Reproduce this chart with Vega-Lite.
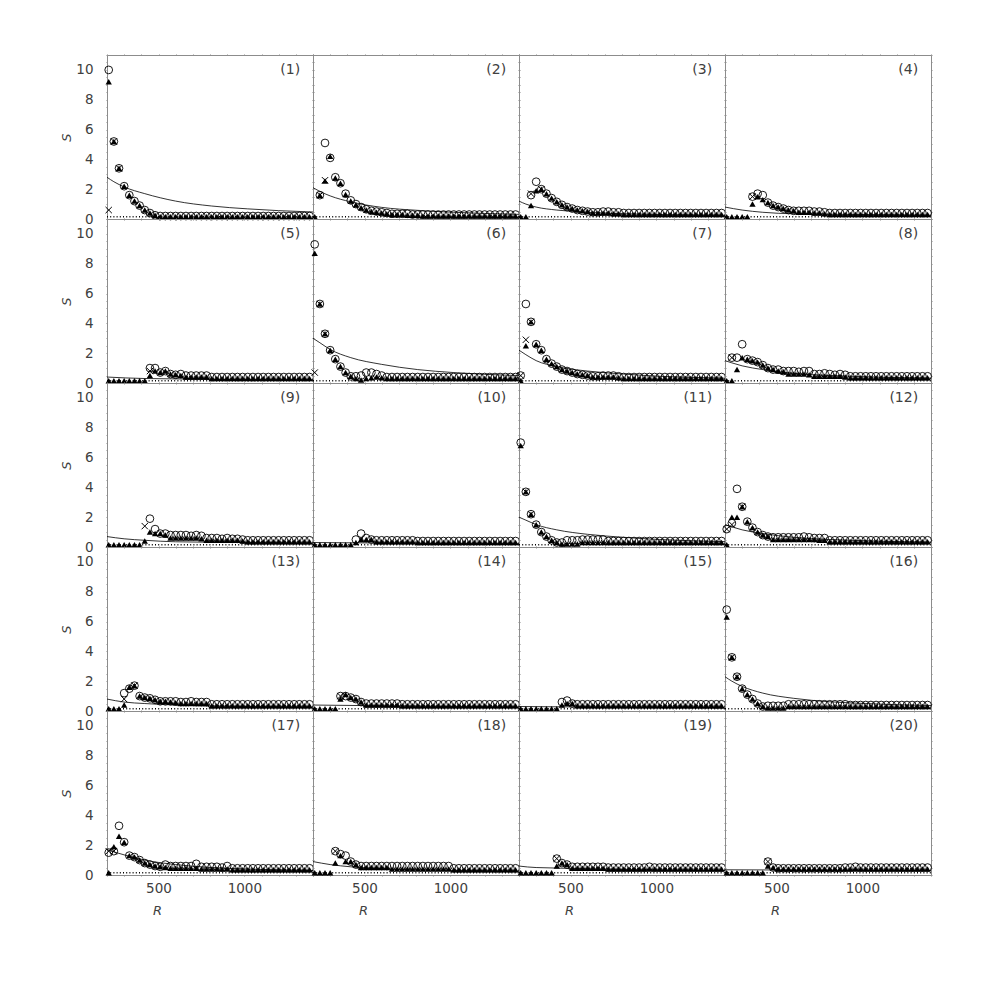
{
"$schema":"https://vega.github.io/schema/vega-lite/v6.json",
"background":"white",
"padding":{"left":60,"top":48,"right":5,"bottom":5},
"columns":4,
"bounds":"flush",
"spacing":0,
"config":{"view":{"stroke":null},
"axis":{"grid":false,"domainColor":"#8c8c8c","tickColor":"#8c8c8c","tickSize":1,"ticks":true,"labelFont":"DejaVu Sans","labelFontSize":13.5,"labelColor":"#404040","labelOverlap":false,"labelFlush":false,"labelBound":false,"titleFont":"DejaVu Sans","titleFontSize":13,"titleFontWeight":"normal","titleFontStyle":"italic","titleColor":"#404040"},
"axisLeft":{"labelPadding":13,"titlePadding":2},
"axisBottom":{"labelPadding":5}},
"datasets":{
"p1":[{"r":200,"m":2.8,"d":0.15},{"r":210,"t":9.2,"o":10,"c":0.6},{"r":240,"t":5.2,"o":5.2,"c":5.2,"m":2.5},{"r":270,"t":3.4,"o":3.4,"c":3.4},{"r":300,"t":2.2,"o":2.2,"m":2.15},{"r":330,"t":1.6,"o":1.6},{"r":360,"t":1.2,"o":1.2},{"r":390,"t":0.9,"o":0.9},{"r":420,"t":0.6,"o":0.6,"m":1.7},{"r":450,"t":0.4,"o":0.4},{"r":480,"t":0.25,"o":0.25},{"r":510,"t":0.15,"o":0.2},{"r":540,"t":0.15,"o":0.2},{"r":570,"t":0.15,"o":0.2},{"r":600,"t":0.15,"o":0.2,"m":1.2},{"r":630,"t":0.15,"o":0.2},{"r":660,"t":0.15,"o":0.2},{"r":690,"t":0.15,"o":0.2},{"r":720,"t":0.15,"o":0.2},{"r":750,"t":0.15,"o":0.2},{"r":780,"t":0.15,"o":0.2},{"r":810,"t":0.15,"o":0.2,"m":0.87},{"r":840,"t":0.15,"o":0.2},{"r":870,"t":0.15,"o":0.2},{"r":900,"t":0.15,"o":0.2},{"r":930,"t":0.15,"o":0.2},{"r":960,"t":0.15,"o":0.2},{"r":990,"t":0.15,"o":0.2},{"r":1020,"t":0.15,"o":0.2,"m":0.68},{"r":1050,"t":0.15,"o":0.2},{"r":1080,"t":0.15,"o":0.2},{"r":1110,"t":0.15,"o":0.2},{"r":1140,"t":0.15,"o":0.2},{"r":1170,"t":0.15,"o":0.2},{"r":1200,"t":0.15,"o":0.2,"m":0.56},{"r":1230,"t":0.15,"o":0.2},{"r":1260,"t":0.15,"o":0.2},{"r":1290,"t":0.15,"o":0.2},{"r":1320,"t":0.15,"o":0.2},{"r":1350,"t":0.15,"o":0.2},{"r":1380,"t":0.15,"o":0.2},{"r":1400,"m":0.47,"d":0.15}],
"p2":[{"r":200,"m":2.1,"d":0.15},{"r":210,"t":0.15},{"r":240,"t":1.6,"o":1.6,"c":1.6,"m":1.85},{"r":270,"t":2.55,"o":5.1,"c":2.6},{"r":300,"t":4.2,"o":4.1,"m":1.55},{"r":330,"t":2.75,"o":2.8},{"r":360,"t":2.4,"o":2.4},{"r":390,"t":1.65,"o":1.7},{"r":420,"t":1.2,"o":1.25,"m":1.15},{"r":450,"t":0.95,"o":1.0},{"r":480,"t":0.75,"o":0.8},{"r":510,"t":0.6,"o":0.65},{"r":540,"t":0.5,"o":0.55},{"r":570,"t":0.45,"o":0.5},{"r":600,"t":0.4,"o":0.45,"m":0.78},{"r":630,"t":0.35,"o":0.4},{"r":660,"t":0.3,"o":0.35},{"r":690,"t":0.3,"o":0.35},{"r":720,"t":0.3,"o":0.35},{"r":750,"t":0.25,"o":0.35},{"r":780,"t":0.25,"o":0.3},{"r":810,"t":0.25,"o":0.3,"m":0.58},{"r":840,"t":0.2,"o":0.3},{"r":870,"t":0.2,"o":0.3},{"r":900,"t":0.2,"o":0.3},{"r":930,"t":0.2,"o":0.3},{"r":960,"t":0.2,"o":0.3},{"r":990,"t":0.2,"o":0.3},{"r":1020,"t":0.2,"o":0.3,"m":0.45},{"r":1050,"t":0.2,"o":0.3},{"r":1080,"t":0.2,"o":0.3},{"r":1110,"t":0.2,"o":0.3},{"r":1140,"t":0.2,"o":0.3},{"r":1170,"t":0.2,"o":0.3},{"r":1200,"t":0.2,"o":0.3,"m":0.37},{"r":1230,"t":0.2,"o":0.3},{"r":1260,"t":0.2,"o":0.3},{"r":1290,"t":0.2,"o":0.3},{"r":1320,"t":0.2,"o":0.3},{"r":1350,"t":0.2,"o":0.3},{"r":1380,"t":0.2,"o":0.3},{"r":1400,"m":0.31,"d":0.15}],
"p3":[{"r":200,"m":1.2,"d":0.15},{"r":210,"t":0.15},{"r":240,"t":0.15,"m":1.0},{"r":270,"t":0.9,"o":1.6,"c":1.7},{"r":300,"t":1.9,"o":2.5,"m":0.8},{"r":330,"t":2.0,"o":2.0,"c":2.0},{"r":360,"t":1.7,"o":1.7},{"r":390,"t":1.4,"o":1.4},{"r":420,"t":1.15,"o":1.15,"m":0.6},{"r":450,"t":0.95,"o":0.95},{"r":480,"t":0.8,"o":0.8},{"r":510,"t":0.7,"o":0.7},{"r":540,"t":0.6,"o":0.6},{"r":570,"t":0.55,"o":0.55},{"r":600,"t":0.5,"o":0.5,"m":0.45},{"r":630,"t":0.4,"o":0.45},{"r":660,"t":0.4,"o":0.45},{"r":690,"t":0.4,"o":0.5},{"r":720,"t":0.4,"o":0.5},{"r":750,"t":0.35,"o":0.45},{"r":780,"t":0.35,"o":0.45},{"r":810,"t":0.3,"o":0.4,"m":0.35},{"r":840,"t":0.3,"o":0.4},{"r":870,"t":0.3,"o":0.4},{"r":900,"t":0.3,"o":0.4},{"r":930,"t":0.3,"o":0.4},{"r":960,"t":0.3,"o":0.4},{"r":990,"t":0.3,"o":0.4},{"r":1020,"t":0.3,"o":0.4,"m":0.3},{"r":1050,"t":0.3,"o":0.4},{"r":1080,"t":0.3,"o":0.4},{"r":1110,"t":0.3,"o":0.4},{"r":1140,"t":0.3,"o":0.4},{"r":1170,"t":0.3,"o":0.4},{"r":1200,"t":0.3,"o":0.4,"m":0.27},{"r":1230,"t":0.3,"o":0.4},{"r":1260,"t":0.3,"o":0.4},{"r":1290,"t":0.3,"o":0.4},{"r":1320,"t":0.3,"o":0.4},{"r":1350,"t":0.3,"o":0.4},{"r":1380,"t":0.3,"o":0.4},{"r":1400,"m":0.25,"d":0.15}],
"p4":[{"r":200,"m":0.8,"d":0.15},{"r":210,"t":0.15},{"r":240,"t":0.15},{"r":270,"t":0.15},{"r":300,"t":0.15,"m":0.6},{"r":330,"t":0.15},{"r":360,"t":1.0,"o":1.5,"c":1.5},{"r":390,"t":1.5,"o":1.7},{"r":420,"t":1.3,"o":1.6,"m":0.45},{"r":450,"t":1.1,"o":1.1},{"r":480,"t":0.9,"o":0.9},{"r":510,"t":0.8,"o":0.8},{"r":540,"t":0.7,"o":0.7},{"r":570,"t":0.6,"o":0.6},{"r":600,"t":0.55,"o":0.55,"m":0.35},{"r":630,"t":0.45,"o":0.55},{"r":660,"t":0.45,"o":0.55},{"r":690,"t":0.45,"o":0.55},{"r":720,"t":0.4,"o":0.5},{"r":750,"t":0.4,"o":0.5},{"r":780,"t":0.35,"o":0.45},{"r":810,"t":0.3,"o":0.4},{"r":840,"t":0.3,"o":0.4},{"r":870,"t":0.3,"o":0.4},{"r":900,"t":0.3,"o":0.4},{"r":930,"t":0.3,"o":0.4},{"r":960,"t":0.3,"o":0.4},{"r":990,"t":0.3,"o":0.4},{"r":1020,"t":0.3,"o":0.4,"m":0.3},{"r":1050,"t":0.3,"o":0.4},{"r":1080,"t":0.3,"o":0.4},{"r":1110,"t":0.3,"o":0.4},{"r":1140,"t":0.3,"o":0.4},{"r":1170,"t":0.3,"o":0.4},{"r":1200,"t":0.3,"o":0.4},{"r":1230,"t":0.3,"o":0.4},{"r":1260,"t":0.3,"o":0.4},{"r":1290,"t":0.3,"o":0.4},{"r":1320,"t":0.3,"o":0.4},{"r":1350,"t":0.3,"o":0.4},{"r":1380,"t":0.3,"o":0.4},{"r":1400,"m":0.25,"d":0.15}],
"p5":[{"r":200,"m":0.4,"d":0.15},{"r":210,"t":0.15},{"r":240,"t":0.15},{"r":270,"t":0.15},{"r":300,"t":0.15},{"r":330,"t":0.15},{"r":360,"t":0.15},{"r":390,"t":0.15},{"r":420,"t":0.15,"m":0.3},{"r":450,"t":0.5,"o":1.0,"c":0.8},{"r":480,"t":0.8,"o":1.0},{"r":510,"t":0.7,"o":0.7},{"r":540,"t":0.8,"o":0.8},{"r":570,"t":0.6,"o":0.6},{"r":600,"t":0.55,"o":0.55},{"r":630,"t":0.5,"o":0.6},{"r":660,"t":0.4,"o":0.5},{"r":690,"t":0.4,"o":0.5},{"r":720,"t":0.4,"o":0.5},{"r":750,"t":0.4,"o":0.5},{"r":780,"t":0.4,"o":0.5},{"r":810,"t":0.3,"o":0.4},{"r":840,"t":0.3,"o":0.4},{"r":870,"t":0.3,"o":0.4},{"r":900,"t":0.3,"o":0.4},{"r":930,"t":0.3,"o":0.4},{"r":960,"t":0.3,"o":0.4},{"r":990,"t":0.3,"o":0.4},{"r":1020,"t":0.3,"o":0.4},{"r":1050,"t":0.3,"o":0.4},{"r":1080,"t":0.3,"o":0.4},{"r":1110,"t":0.3,"o":0.4},{"r":1140,"t":0.3,"o":0.4},{"r":1170,"t":0.3,"o":0.4},{"r":1200,"t":0.3,"o":0.4},{"r":1230,"t":0.3,"o":0.4},{"r":1260,"t":0.3,"o":0.4},{"r":1290,"t":0.3,"o":0.4},{"r":1320,"t":0.3,"o":0.4},{"r":1350,"t":0.3,"o":0.4},{"r":1380,"t":0.3,"o":0.4},{"r":1400,"m":0.2,"d":0.15}],
"p6":[{"r":200,"m":3.0,"d":0.15},{"r":210,"t":8.7,"o":9.3,"c":0.7},{"r":240,"t":5.3,"o":5.3,"c":5.3,"m":2.7},{"r":270,"t":3.3,"o":3.3,"c":3.3},{"r":300,"t":2.2,"o":2.2,"m":2.25},{"r":330,"t":1.6,"o":1.6},{"r":360,"t":1.1,"o":1.1},{"r":390,"t":0.7,"o":0.7},{"r":420,"t":0.45,"o":0.45,"m":1.7},{"r":450,"t":0.3,"o":0.45},{"r":480,"t":0.2,"o":0.5},{"r":510,"t":0.3,"o":0.7},{"r":540,"t":0.35,"o":0.7},{"r":570,"t":0.4,"o":0.6},{"r":600,"t":0.35,"o":0.5,"m":1.25},{"r":630,"t":0.3,"o":0.4},{"r":660,"t":0.3,"o":0.4},{"r":690,"t":0.3,"o":0.4},{"r":720,"t":0.3,"o":0.4},{"r":750,"t":0.3,"o":0.4},{"r":780,"t":0.3,"o":0.4},{"r":810,"t":0.3,"o":0.4,"m":0.9},{"r":840,"t":0.3,"o":0.4},{"r":870,"t":0.3,"o":0.4},{"r":900,"t":0.3,"o":0.4},{"r":930,"t":0.3,"o":0.4},{"r":960,"t":0.3,"o":0.4},{"r":990,"t":0.3,"o":0.4},{"r":1020,"t":0.3,"o":0.4,"m":0.7},{"r":1050,"t":0.3,"o":0.4},{"r":1080,"t":0.3,"o":0.4},{"r":1110,"t":0.3,"o":0.4},{"r":1140,"t":0.3,"o":0.4},{"r":1170,"t":0.3,"o":0.4},{"r":1200,"t":0.3,"o":0.4,"m":0.58},{"r":1230,"t":0.3,"o":0.4},{"r":1260,"t":0.3,"o":0.4},{"r":1290,"t":0.3,"o":0.4},{"r":1320,"t":0.3,"o":0.4},{"r":1350,"t":0.3,"o":0.4},{"r":1380,"t":0.3,"o":0.4},{"r":1400,"m":0.5,"d":0.15}],
"p7":[{"r":200,"m":2.2,"d":0.15},{"r":210,"o":0.5,"c":0.5,"t":0.15},{"r":240,"t":2.5,"o":5.3,"c":2.9,"m":1.9},{"r":270,"t":4.1,"o":4.1,"c":4.1},{"r":300,"t":2.6,"o":2.6,"m":1.5},{"r":330,"t":2.2,"o":2.2},{"r":360,"t":1.6,"o":1.6},{"r":390,"t":1.3,"o":1.3},{"r":420,"t":1.1,"o":1.1,"m":1.1},{"r":450,"t":0.9,"o":0.9},{"r":480,"t":0.8,"o":0.8},{"r":510,"t":0.7,"o":0.7},{"r":540,"t":0.6,"o":0.6},{"r":570,"t":0.55,"o":0.55},{"r":600,"t":0.5,"o":0.5,"m":0.8},{"r":630,"t":0.4,"o":0.45},{"r":660,"t":0.4,"o":0.45},{"r":690,"t":0.4,"o":0.5},{"r":720,"t":0.4,"o":0.5},{"r":750,"t":0.4,"o":0.5},{"r":780,"t":0.35,"o":0.45},{"r":810,"t":0.3,"o":0.4,"m":0.6},{"r":840,"t":0.3,"o":0.4},{"r":870,"t":0.3,"o":0.4},{"r":900,"t":0.3,"o":0.4},{"r":930,"t":0.3,"o":0.4},{"r":960,"t":0.3,"o":0.4},{"r":990,"t":0.3,"o":0.4},{"r":1020,"t":0.3,"o":0.4,"m":0.45},{"r":1050,"t":0.3,"o":0.4},{"r":1080,"t":0.3,"o":0.4},{"r":1110,"t":0.3,"o":0.4},{"r":1140,"t":0.3,"o":0.4},{"r":1170,"t":0.3,"o":0.4},{"r":1200,"t":0.3,"o":0.4,"m":0.38},{"r":1230,"t":0.3,"o":0.4},{"r":1260,"t":0.3,"o":0.4},{"r":1290,"t":0.3,"o":0.4},{"r":1320,"t":0.3,"o":0.4},{"r":1350,"t":0.3,"o":0.4},{"r":1380,"t":0.3,"o":0.4},{"r":1400,"m":0.32,"d":0.15}],
"p8":[{"r":200,"m":1.5,"d":0.15},{"r":210,"t":0.15},{"r":240,"t":0.15,"o":1.7,"c":1.7,"m":1.35},{"r":270,"t":0.9,"o":1.7},{"r":300,"t":1.7,"o":2.6,"m":1.15},{"r":330,"t":1.6,"o":1.6},{"r":360,"t":1.5,"o":1.5},{"r":390,"t":1.4,"o":1.4},{"r":420,"t":1.2,"o":1.2,"m":0.9},{"r":450,"t":1.0,"o":1.0},{"r":480,"t":0.9,"o":0.9},{"r":510,"t":0.8,"o":0.9},{"r":540,"t":0.75,"o":0.8},{"r":570,"t":0.6,"o":0.8},{"r":600,"t":0.6,"o":0.8,"m":0.65},{"r":630,"t":0.6,"o":0.75},{"r":660,"t":0.6,"o":0.8},{"r":690,"t":0.55,"o":0.8},{"r":720,"t":0.45,"o":0.6},{"r":750,"t":0.45,"o":0.6},{"r":780,"t":0.45,"o":0.65},{"r":810,"t":0.45,"o":0.6,"m":0.5},{"r":840,"t":0.45,"o":0.55},{"r":870,"t":0.45,"o":0.6},{"r":900,"t":0.4,"o":0.55},{"r":930,"t":0.35,"o":0.45},{"r":960,"t":0.35,"o":0.45},{"r":990,"t":0.35,"o":0.45},{"r":1020,"t":0.35,"o":0.45,"m":0.42},{"r":1050,"t":0.35,"o":0.45},{"r":1080,"t":0.35,"o":0.45},{"r":1110,"t":0.35,"o":0.45},{"r":1140,"t":0.35,"o":0.45},{"r":1170,"t":0.35,"o":0.45},{"r":1200,"t":0.35,"o":0.45,"m":0.36},{"r":1230,"t":0.35,"o":0.45},{"r":1260,"t":0.35,"o":0.45},{"r":1290,"t":0.35,"o":0.45},{"r":1320,"t":0.35,"o":0.45},{"r":1350,"t":0.35,"o":0.45},{"r":1380,"t":0.35,"o":0.45},{"r":1400,"m":0.32,"d":0.15}],
"p9":[{"r":200,"m":0.7,"d":0.15},{"r":210,"t":0.15},{"r":240,"t":0.15},{"r":270,"t":0.15},{"r":300,"t":0.15,"m":0.55},{"r":330,"t":0.15},{"r":360,"t":0.15},{"r":390,"t":0.15},{"r":420,"t":0.4,"c":1.4,"m":0.45},{"r":450,"t":1.0,"o":1.9},{"r":480,"t":0.9,"o":1.2},{"r":510,"t":0.9,"o":0.9},{"r":540,"t":0.8,"o":0.9},{"r":570,"t":0.6,"o":0.8},{"r":600,"t":0.6,"o":0.8,"m":0.35},{"r":630,"t":0.6,"o":0.8},{"r":660,"t":0.6,"o":0.8},{"r":690,"t":0.6,"o":0.75},{"r":720,"t":0.6,"o":0.8},{"r":750,"t":0.55,"o":0.75},{"r":780,"t":0.45,"o":0.6},{"r":810,"t":0.45,"o":0.6},{"r":840,"t":0.45,"o":0.6},{"r":870,"t":0.45,"o":0.55},{"r":900,"t":0.45,"o":0.6},{"r":930,"t":0.45,"o":0.55},{"r":960,"t":0.45,"o":0.55},{"r":990,"t":0.4,"o":0.5},{"r":1020,"t":0.35,"o":0.45,"m":0.3},{"r":1050,"t":0.35,"o":0.45},{"r":1080,"t":0.35,"o":0.45},{"r":1110,"t":0.35,"o":0.45},{"r":1140,"t":0.35,"o":0.45},{"r":1170,"t":0.35,"o":0.45},{"r":1200,"t":0.35,"o":0.45},{"r":1230,"t":0.35,"o":0.45},{"r":1260,"t":0.35,"o":0.45},{"r":1290,"t":0.35,"o":0.45},{"r":1320,"t":0.35,"o":0.45},{"r":1350,"t":0.35,"o":0.45},{"r":1380,"t":0.35,"o":0.45},{"r":1400,"m":0.25,"d":0.15}],
"p10":[{"r":200,"m":0.3,"d":0.15},{"r":210,"t":0.15},{"r":240,"t":0.15},{"r":270,"t":0.15},{"r":300,"t":0.15},{"r":330,"t":0.15},{"r":360,"t":0.15},{"r":390,"t":0.15},{"r":420,"t":0.15},{"r":450,"t":0.3,"o":0.5},{"r":480,"t":0.5,"o":0.9},{"r":510,"t":0.5,"o":0.6},{"r":540,"t":0.5,"o":0.5},{"r":570,"t":0.35,"o":0.45},{"r":600,"t":0.35,"o":0.45},{"r":630,"t":0.35,"o":0.45},{"r":660,"t":0.35,"o":0.45},{"r":690,"t":0.35,"o":0.45},{"r":720,"t":0.35,"o":0.45},{"r":750,"t":0.35,"o":0.45},{"r":780,"t":0.35,"o":0.45},{"r":810,"t":0.3,"o":0.4},{"r":840,"t":0.3,"o":0.4},{"r":870,"t":0.3,"o":0.4},{"r":900,"t":0.3,"o":0.4},{"r":930,"t":0.3,"o":0.4},{"r":960,"t":0.3,"o":0.4},{"r":990,"t":0.3,"o":0.4},{"r":1020,"t":0.3,"o":0.4},{"r":1050,"t":0.3,"o":0.4},{"r":1080,"t":0.3,"o":0.4},{"r":1110,"t":0.3,"o":0.4},{"r":1140,"t":0.3,"o":0.4},{"r":1170,"t":0.3,"o":0.4},{"r":1200,"t":0.3,"o":0.4},{"r":1230,"t":0.3,"o":0.4},{"r":1260,"t":0.3,"o":0.4},{"r":1290,"t":0.3,"o":0.4},{"r":1320,"t":0.3,"o":0.4},{"r":1350,"t":0.3,"o":0.4},{"r":1380,"t":0.3,"o":0.4},{"r":1400,"m":0.2,"d":0.15}],
"p11":[{"r":200,"m":2.0,"d":0.15},{"r":210,"t":6.8,"o":7.0},{"r":240,"t":3.7,"o":3.7,"c":3.7,"m":1.8},{"r":270,"t":2.2,"o":2.2,"c":2.2},{"r":300,"t":1.5,"o":1.5,"m":1.5},{"r":330,"t":1.0,"o":1.0},{"r":360,"t":0.7,"o":0.7},{"r":390,"t":0.45,"o":0.45},{"r":420,"t":0.3,"o":0.3,"m":1.15},{"r":450,"t":0.2,"o":0.3},{"r":480,"t":0.2,"o":0.45},{"r":510,"t":0.2,"o":0.45},{"r":540,"t":0.2,"o":0.45},{"r":570,"t":0.3,"o":0.5},{"r":600,"t":0.3,"o":0.5,"m":0.85},{"r":630,"t":0.3,"o":0.5},{"r":660,"t":0.3,"o":0.5},{"r":690,"t":0.3,"o":0.5},{"r":720,"t":0.3,"o":0.4},{"r":750,"t":0.3,"o":0.4},{"r":780,"t":0.3,"o":0.4},{"r":810,"t":0.3,"o":0.4,"m":0.65},{"r":840,"t":0.3,"o":0.4},{"r":870,"t":0.3,"o":0.4},{"r":900,"t":0.3,"o":0.4},{"r":930,"t":0.3,"o":0.4},{"r":960,"t":0.3,"o":0.4},{"r":990,"t":0.3,"o":0.4},{"r":1020,"t":0.3,"o":0.4,"m":0.5},{"r":1050,"t":0.3,"o":0.4},{"r":1080,"t":0.3,"o":0.4},{"r":1110,"t":0.3,"o":0.4},{"r":1140,"t":0.3,"o":0.4},{"r":1170,"t":0.3,"o":0.4},{"r":1200,"t":0.3,"o":0.4,"m":0.42},{"r":1230,"t":0.3,"o":0.4},{"r":1260,"t":0.3,"o":0.4},{"r":1290,"t":0.3,"o":0.4},{"r":1320,"t":0.3,"o":0.4},{"r":1350,"t":0.3,"o":0.4},{"r":1380,"t":0.3,"o":0.4},{"r":1400,"m":0.36,"d":0.15}],
"p12":[{"r":200,"m":1.5,"d":0.15},{"r":210,"t":0.15,"o":1.2,"c":1.2},{"r":240,"t":2.0,"o":1.6,"c":1.5,"m":1.35},{"r":270,"t":2.0,"o":3.9},{"r":300,"t":2.7,"o":2.7,"c":2.7,"m":1.15},{"r":330,"t":1.7,"o":1.7},{"r":360,"t":1.3,"o":1.3},{"r":390,"t":1.0,"o":1.0},{"r":420,"t":0.8,"o":0.8,"m":0.9},{"r":450,"t":0.7,"o":0.7},{"r":480,"t":0.5,"o":0.65},{"r":510,"t":0.5,"o":0.65},{"r":540,"t":0.5,"o":0.65},{"r":570,"t":0.5,"o":0.65},{"r":600,"t":0.5,"o":0.65,"m":0.65},{"r":630,"t":0.5,"o":0.65},{"r":660,"t":0.5,"o":0.7},{"r":690,"t":0.5,"o":0.65},{"r":720,"t":0.5,"o":0.6},{"r":750,"t":0.45,"o":0.6},{"r":780,"t":0.45,"o":0.6},{"r":810,"t":0.35,"o":0.45,"m":0.5},{"r":840,"t":0.35,"o":0.45},{"r":870,"t":0.35,"o":0.45},{"r":900,"t":0.35,"o":0.45},{"r":930,"t":0.35,"o":0.45},{"r":960,"t":0.35,"o":0.45},{"r":990,"t":0.35,"o":0.45},{"r":1020,"t":0.35,"o":0.45,"m":0.42},{"r":1050,"t":0.35,"o":0.45},{"r":1080,"t":0.35,"o":0.45},{"r":1110,"t":0.35,"o":0.45},{"r":1140,"t":0.35,"o":0.45},{"r":1170,"t":0.35,"o":0.45},{"r":1200,"t":0.35,"o":0.45,"m":0.36},{"r":1230,"t":0.35,"o":0.45},{"r":1260,"t":0.35,"o":0.45},{"r":1290,"t":0.35,"o":0.45},{"r":1320,"t":0.35,"o":0.45},{"r":1350,"t":0.35,"o":0.45},{"r":1380,"t":0.35,"o":0.45},{"r":1400,"m":0.32,"d":0.15}],
"p13":[{"r":200,"m":0.8,"d":0.15},{"r":210,"t":0.15},{"r":240,"t":0.15},{"r":270,"t":0.15},{"r":300,"t":0.4,"o":1.2,"c":0.8,"m":0.6},{"r":330,"t":1.6,"o":1.5},{"r":360,"t":1.7,"o":1.7,"c":1.7},{"r":390,"t":1.0,"o":1.0},{"r":420,"t":0.9,"o":0.9,"m":0.5},{"r":450,"t":0.85,"o":0.85},{"r":480,"t":0.75,"o":0.75},{"r":510,"t":0.65,"o":0.65},{"r":540,"t":0.65,"o":0.65},{"r":570,"t":0.6,"o":0.65},{"r":600,"t":0.55,"o":0.65,"m":0.4},{"r":630,"t":0.5,"o":0.6},{"r":660,"t":0.5,"o":0.6},{"r":690,"t":0.5,"o":0.65},{"r":720,"t":0.5,"o":0.6},{"r":750,"t":0.5,"o":0.6},{"r":780,"t":0.5,"o":0.6},{"r":810,"t":0.35,"o":0.45},{"r":840,"t":0.35,"o":0.45},{"r":870,"t":0.35,"o":0.45},{"r":900,"t":0.35,"o":0.45},{"r":930,"t":0.35,"o":0.45},{"r":960,"t":0.35,"o":0.45},{"r":990,"t":0.35,"o":0.45},{"r":1020,"t":0.35,"o":0.45,"m":0.3},{"r":1050,"t":0.35,"o":0.45},{"r":1080,"t":0.35,"o":0.45},{"r":1110,"t":0.35,"o":0.45},{"r":1140,"t":0.35,"o":0.45},{"r":1170,"t":0.35,"o":0.45},{"r":1200,"t":0.35,"o":0.45},{"r":1230,"t":0.35,"o":0.45},{"r":1260,"t":0.35,"o":0.45},{"r":1290,"t":0.35,"o":0.45},{"r":1320,"t":0.35,"o":0.45},{"r":1350,"t":0.35,"o":0.45},{"r":1380,"t":0.35,"o":0.45},{"r":1400,"m":0.25,"d":0.15}],
"p14":[{"r":200,"m":0.4,"d":0.15},{"r":210,"t":0.15},{"r":240,"t":0.15},{"r":270,"t":0.15},{"r":300,"t":0.15},{"r":330,"t":0.15},{"r":360,"t":0.8,"o":1.0,"c":1.0},{"r":390,"t":1.1,"o":1.0},{"r":420,"t":0.9,"o":0.9},{"r":450,"t":0.8,"o":0.8},{"r":480,"t":0.6,"o":0.6},{"r":510,"t":0.4,"o":0.5},{"r":540,"t":0.4,"o":0.5},{"r":570,"t":0.4,"o":0.5},{"r":600,"t":0.4,"o":0.5},{"r":630,"t":0.4,"o":0.5},{"r":660,"t":0.4,"o":0.5},{"r":690,"t":0.4,"o":0.5},{"r":720,"t":0.35,"o":0.45},{"r":750,"t":0.35,"o":0.45},{"r":780,"t":0.35,"o":0.45},{"r":810,"t":0.35,"o":0.45},{"r":840,"t":0.35,"o":0.45},{"r":870,"t":0.35,"o":0.45},{"r":900,"t":0.35,"o":0.45},{"r":930,"t":0.35,"o":0.45},{"r":960,"t":0.35,"o":0.45},{"r":990,"t":0.35,"o":0.45},{"r":1020,"t":0.35,"o":0.45},{"r":1050,"t":0.35,"o":0.45},{"r":1080,"t":0.35,"o":0.45},{"r":1110,"t":0.35,"o":0.45},{"r":1140,"t":0.35,"o":0.45},{"r":1170,"t":0.35,"o":0.45},{"r":1200,"t":0.35,"o":0.45},{"r":1230,"t":0.35,"o":0.45},{"r":1260,"t":0.35,"o":0.45},{"r":1290,"t":0.35,"o":0.45},{"r":1320,"t":0.35,"o":0.45},{"r":1350,"t":0.35,"o":0.45},{"r":1380,"t":0.35,"o":0.45},{"r":1400,"m":0.25,"d":0.15}],
"p15":[{"r":200,"m":0.3,"d":0.15},{"r":210,"t":0.15},{"r":240,"t":0.15},{"r":270,"t":0.15},{"r":300,"t":0.15},{"r":330,"t":0.15},{"r":360,"t":0.15},{"r":390,"t":0.15},{"r":420,"t":0.15},{"r":450,"t":0.4,"o":0.6},{"r":480,"t":0.5,"o":0.7},{"r":510,"t":0.5,"o":0.5},{"r":540,"t":0.35,"o":0.45},{"r":570,"t":0.35,"o":0.45},{"r":600,"t":0.35,"o":0.45},{"r":630,"t":0.35,"o":0.45},{"r":660,"t":0.35,"o":0.45},{"r":690,"t":0.35,"o":0.45},{"r":720,"t":0.35,"o":0.45},{"r":750,"t":0.35,"o":0.45},{"r":780,"t":0.35,"o":0.45},{"r":810,"t":0.35,"o":0.45},{"r":840,"t":0.35,"o":0.45},{"r":870,"t":0.35,"o":0.45},{"r":900,"t":0.35,"o":0.45},{"r":930,"t":0.35,"o":0.45},{"r":960,"t":0.35,"o":0.45},{"r":990,"t":0.35,"o":0.45},{"r":1020,"t":0.35,"o":0.45},{"r":1050,"t":0.35,"o":0.45},{"r":1080,"t":0.35,"o":0.45},{"r":1110,"t":0.35,"o":0.45},{"r":1140,"t":0.35,"o":0.45},{"r":1170,"t":0.35,"o":0.45},{"r":1200,"t":0.35,"o":0.45},{"r":1230,"t":0.35,"o":0.45},{"r":1260,"t":0.35,"o":0.45},{"r":1290,"t":0.35,"o":0.45},{"r":1320,"t":0.35,"o":0.45},{"r":1350,"t":0.35,"o":0.45},{"r":1380,"t":0.35,"o":0.45},{"r":1400,"m":0.2,"d":0.15}],
"p16":[{"r":200,"m":2.3,"d":0.15},{"r":210,"t":6.3,"o":6.8},{"r":240,"t":3.6,"o":3.6,"c":3.6,"m":2.0},{"r":270,"t":2.3,"o":2.3,"c":2.3},{"r":300,"t":1.5,"o":1.5,"m":1.65},{"r":330,"t":1.1,"o":1.1},{"r":360,"t":0.8,"o":0.8},{"r":390,"t":0.5,"o":0.5},{"r":420,"t":0.3,"o":0.3,"m":1.2},{"r":450,"t":0.2,"o":0.35},{"r":480,"t":0.2,"o":0.35},{"r":510,"t":0.2,"o":0.35},{"r":540,"t":0.2,"o":0.35},{"r":570,"t":0.3,"o":0.45},{"r":600,"t":0.3,"o":0.45,"m":0.85},{"r":630,"t":0.3,"o":0.45},{"r":660,"t":0.3,"o":0.45},{"r":690,"t":0.3,"o":0.45},{"r":720,"t":0.3,"o":0.45},{"r":750,"t":0.3,"o":0.45},{"r":780,"t":0.3,"o":0.45},{"r":810,"t":0.3,"o":0.45,"m":0.62},{"r":840,"t":0.3,"o":0.45},{"r":870,"t":0.3,"o":0.45},{"r":900,"t":0.3,"o":0.45},{"r":930,"t":0.3,"o":0.4},{"r":960,"t":0.3,"o":0.4},{"r":990,"t":0.3,"o":0.4},{"r":1020,"t":0.3,"o":0.4,"m":0.5},{"r":1050,"t":0.3,"o":0.4},{"r":1080,"t":0.3,"o":0.4},{"r":1110,"t":0.3,"o":0.4},{"r":1140,"t":0.3,"o":0.4},{"r":1170,"t":0.3,"o":0.4},{"r":1200,"t":0.3,"o":0.4,"m":0.42},{"r":1230,"t":0.3,"o":0.4},{"r":1260,"t":0.3,"o":0.4},{"r":1290,"t":0.3,"o":0.4},{"r":1320,"t":0.3,"o":0.4},{"r":1350,"t":0.3,"o":0.4},{"r":1380,"t":0.3,"o":0.4},{"r":1400,"m":0.37,"d":0.15}],
"p17":[{"r":200,"m":1.7,"d":0.15},{"r":210,"t":0.15,"o":1.5,"c":1.6},{"r":240,"t":1.9,"o":1.6,"c":1.6,"m":1.55},{"r":270,"t":2.6,"o":3.3},{"r":300,"t":2.2,"o":2.2,"m":1.35},{"r":330,"t":1.3,"o":1.3},{"r":360,"t":1.2,"o":1.2},{"r":390,"t":1.0,"o":1.0},{"r":420,"t":0.8,"o":0.8,"m":1.0},{"r":450,"t":0.7,"o":0.7},{"r":480,"t":0.6,"o":0.6},{"r":510,"t":0.55,"o":0.55},{"r":540,"t":0.5,"o":0.7},{"r":570,"t":0.45,"o":0.6},{"r":600,"t":0.45,"o":0.6,"m":0.7},{"r":630,"t":0.45,"o":0.6},{"r":660,"t":0.45,"o":0.6},{"r":690,"t":0.45,"o":0.6},{"r":720,"t":0.45,"o":0.75},{"r":750,"t":0.4,"o":0.55},{"r":780,"t":0.4,"o":0.55},{"r":810,"t":0.4,"o":0.55,"m":0.5},{"r":840,"t":0.4,"o":0.55},{"r":870,"t":0.4,"o":0.5},{"r":900,"t":0.4,"o":0.6},{"r":930,"t":0.35,"o":0.45},{"r":960,"t":0.35,"o":0.45},{"r":990,"t":0.35,"o":0.45},{"r":1020,"t":0.35,"o":0.45,"m":0.4},{"r":1050,"t":0.35,"o":0.45},{"r":1080,"t":0.35,"o":0.45},{"r":1110,"t":0.35,"o":0.45},{"r":1140,"t":0.35,"o":0.45},{"r":1170,"t":0.35,"o":0.45},{"r":1200,"t":0.35,"o":0.45,"m":0.34},{"r":1230,"t":0.35,"o":0.45},{"r":1260,"t":0.35,"o":0.45},{"r":1290,"t":0.35,"o":0.45},{"r":1320,"t":0.35,"o":0.45},{"r":1350,"t":0.35,"o":0.45},{"r":1380,"t":0.35,"o":0.45},{"r":1400,"m":0.3,"d":0.15}],
"p18":[{"r":200,"m":0.9,"d":0.15},{"r":210,"t":0.15},{"r":240,"t":0.15},{"r":270,"t":0.15},{"r":300,"t":0.15,"m":0.7},{"r":330,"t":0.8,"o":1.6,"c":1.6},{"r":360,"t":1.3,"o":1.4},{"r":390,"t":0.9,"o":1.3},{"r":420,"t":0.9,"o":0.9,"m":0.55},{"r":450,"t":0.7,"o":0.7},{"r":480,"t":0.5,"o":0.6},{"r":510,"t":0.5,"o":0.6},{"r":540,"t":0.5,"o":0.6},{"r":570,"t":0.5,"o":0.6},{"r":600,"t":0.5,"o":0.6,"m":0.42},{"r":630,"t":0.5,"o":0.6},{"r":660,"t":0.4,"o":0.6},{"r":690,"t":0.4,"o":0.6},{"r":720,"t":0.4,"o":0.6},{"r":750,"t":0.4,"o":0.6},{"r":780,"t":0.4,"o":0.6},{"r":810,"t":0.4,"o":0.6},{"r":840,"t":0.4,"o":0.6},{"r":870,"t":0.4,"o":0.6},{"r":900,"t":0.4,"o":0.6},{"r":930,"t":0.4,"o":0.6},{"r":960,"t":0.4,"o":0.6},{"r":990,"t":0.4,"o":0.6},{"r":1020,"t":0.35,"o":0.45,"m":0.3},{"r":1050,"t":0.35,"o":0.45},{"r":1080,"t":0.35,"o":0.45},{"r":1110,"t":0.35,"o":0.45},{"r":1140,"t":0.35,"o":0.45},{"r":1170,"t":0.35,"o":0.45},{"r":1200,"t":0.35,"o":0.45},{"r":1230,"t":0.35,"o":0.45},{"r":1260,"t":0.35,"o":0.45},{"r":1290,"t":0.35,"o":0.45},{"r":1320,"t":0.35,"o":0.45},{"r":1350,"t":0.35,"o":0.45},{"r":1380,"t":0.35,"o":0.45},{"r":1400,"m":0.25,"d":0.15}],
"p19":[{"r":200,"m":0.6,"d":0.15},{"r":210,"t":0.15},{"r":240,"t":0.15},{"r":270,"t":0.15},{"r":300,"t":0.15,"m":0.5},{"r":330,"t":0.15},{"r":360,"t":0.15},{"r":390,"t":0.15},{"r":420,"t":0.6,"o":1.1,"c":1.1},{"r":450,"t":0.8,"o":0.8},{"r":480,"t":0.7,"o":0.7},{"r":510,"t":0.45,"o":0.55},{"r":540,"t":0.45,"o":0.55},{"r":570,"t":0.45,"o":0.55},{"r":600,"t":0.45,"o":0.55},{"r":630,"t":0.45,"o":0.55},{"r":660,"t":0.45,"o":0.55},{"r":690,"t":0.45,"o":0.55},{"r":720,"t":0.4,"o":0.5},{"r":750,"t":0.4,"o":0.5},{"r":780,"t":0.4,"o":0.5},{"r":810,"t":0.4,"o":0.5},{"r":840,"t":0.4,"o":0.5},{"r":870,"t":0.4,"o":0.5},{"r":900,"t":0.4,"o":0.5},{"r":930,"t":0.4,"o":0.5},{"r":960,"t":0.4,"o":0.55},{"r":990,"t":0.4,"o":0.5},{"r":1020,"t":0.4,"o":0.5},{"r":1050,"t":0.4,"o":0.5},{"r":1080,"t":0.4,"o":0.5},{"r":1110,"t":0.4,"o":0.5},{"r":1140,"t":0.4,"o":0.5},{"r":1170,"t":0.4,"o":0.5},{"r":1200,"t":0.4,"o":0.5},{"r":1230,"t":0.4,"o":0.5},{"r":1260,"t":0.4,"o":0.5},{"r":1290,"t":0.4,"o":0.5},{"r":1320,"t":0.4,"o":0.5},{"r":1350,"t":0.4,"o":0.5},{"r":1380,"t":0.4,"o":0.5},{"r":1400,"m":0.3,"d":0.15}],
"p20":[{"r":200,"m":0.35,"d":0.15},{"r":210,"t":0.15},{"r":240,"t":0.15},{"r":270,"t":0.15},{"r":300,"t":0.15},{"r":330,"t":0.15},{"r":360,"t":0.15},{"r":390,"t":0.15},{"r":420,"t":0.15},{"r":450,"t":0.6,"o":0.9,"c":0.9},{"r":480,"t":0.5,"o":0.5},{"r":510,"t":0.4,"o":0.45},{"r":540,"t":0.4,"o":0.45},{"r":570,"t":0.4,"o":0.45},{"r":600,"t":0.4,"o":0.45},{"r":630,"t":0.4,"o":0.45},{"r":660,"t":0.4,"o":0.45},{"r":690,"t":0.4,"o":0.45},{"r":720,"t":0.4,"o":0.45},{"r":750,"t":0.4,"o":0.45},{"r":780,"t":0.4,"o":0.45},{"r":810,"t":0.4,"o":0.45},{"r":840,"t":0.4,"o":0.45},{"r":870,"t":0.4,"o":0.45},{"r":900,"t":0.4,"o":0.5},{"r":930,"t":0.4,"o":0.5},{"r":960,"t":0.4,"o":0.55},{"r":990,"t":0.4,"o":0.5},{"r":1020,"t":0.4,"o":0.5},{"r":1050,"t":0.4,"o":0.5},{"r":1080,"t":0.4,"o":0.5},{"r":1110,"t":0.4,"o":0.5},{"r":1140,"t":0.4,"o":0.5},{"r":1170,"t":0.4,"o":0.5},{"r":1200,"t":0.4,"o":0.5},{"r":1230,"t":0.4,"o":0.5},{"r":1260,"t":0.4,"o":0.5},{"r":1290,"t":0.4,"o":0.5},{"r":1320,"t":0.4,"o":0.5},{"r":1350,"t":0.4,"o":0.5},{"r":1380,"t":0.4,"o":0.5},{"r":1400,"m":0.3,"d":0.15}]
},
"concat":[
{"width":206,"height":164,"data":{"name":"p1"},"resolve":{"axis":{"x":"independent","y":"independent"}},"layer":[
{"transform":[{"filter":{"field":"d","valid":true}}],"mark":{"type":"line","color":"#000","strokeWidth":1.6,"strokeDash":[1,2.2]},"encoding":{"x":{"field":"r","type":"quantitative","scale":{"domain":[200,1400],"nice":false},"axis":{"orient":"bottom","values":[200,300,400,500,600,700,800,900,1000,1100,1200,1300,1400],"labels":false,"title":null,"encode":{"ticks":{"update":{"y2":{"signal":"datum.value%500?-4.5:-9"}}}}}},"y":{"field":"d","type":"quantitative","scale":{"domain":[0,11],"nice":false},"axis":{"orient":"left","values":[0,0.5,1,1.5,2,2.5,3,3.5,4,4.5,5,5.5,6,6.5,7,7.5,8,8.5,9,9.5,10,10.5,11],"labels":true,"labelExpr":"datum.value%2?'':''+datum.value","title":"S","encode":{"ticks":{"update":{"x2":{"signal":"datum.value%2?4.5:9"}}}}}}}},
{"transform":[{"filter":{"field":"m","valid":true}}],"mark":{"type":"line","color":"#000","strokeWidth":0.8,"interpolate":"monotone"},"encoding":{"x":{"field":"r","type":"quantitative","scale":{"domain":[200,1400],"nice":false},"axis":{"orient":"top","values":[200,300,400,500,600,700,800,900,1000,1100,1200,1300,1400],"labels":false,"title":null,"encode":{"ticks":{"update":{"y2":{"signal":"datum.value%500?4.5:9"}}}}}},"y":{"field":"m","type":"quantitative","scale":{"domain":[0,11],"nice":false},"axis":{"orient":"right","values":[0,0.5,1,1.5,2,2.5,3,3.5,4,4.5,5,5.5,6,6.5,7,7.5,8,8.5,9,9.5,10,10.5,11],"labels":false,"title":null,"encode":{"ticks":{"update":{"x2":{"signal":"datum.value%2?-4.5:-9"}}}}}}}},
{"transform":[{"filter":{"field":"t","valid":true}}],"mark":{"type":"point","shape":"triangle-up","filled":true,"color":"#000","opacity":1,"size":40},"encoding":{"x":{"field":"r","type":"quantitative","scale":{"domain":[200,1400],"nice":false},"axis":null},"y":{"field":"t","type":"quantitative","scale":{"domain":[0,11],"nice":false},"axis":null}}},
{"transform":[{"filter":{"field":"o","valid":true}}],"mark":{"type":"point","shape":"circle","filled":false,"color":"#000","opacity":1,"size":60,"strokeWidth":0.9},"encoding":{"x":{"field":"r","type":"quantitative","scale":{"domain":[200,1400],"nice":false},"axis":null},"y":{"field":"o","type":"quantitative","scale":{"domain":[0,11],"nice":false},"axis":null}}},
{"transform":[{"filter":{"field":"c","valid":true}}],"mark":{"type":"point","shape":"M-1,-1L1,1M-1,1L1,-1","filled":false,"color":"#000","opacity":1,"size":40,"strokeWidth":1},"encoding":{"x":{"field":"r","type":"quantitative","scale":{"domain":[200,1400],"nice":false},"axis":null},"y":{"field":"c","type":"quantitative","scale":{"domain":[0,11],"nice":false},"axis":null}}},
{"data":{"values":[{}]},"mark":{"type":"text","text":"(1)","align":"right","baseline":"middle","font":"DejaVu Sans","fontSize":14,"color":"#404040"},"encoding":{"x":{"datum":1325,"type":"quantitative","scale":{"domain":[200,1400],"nice":false},"axis":null},"y":{"datum":10,"type":"quantitative","scale":{"domain":[0,11],"nice":false},"axis":null}}}]},
{"width":206,"height":164,"data":{"name":"p2"},"resolve":{"axis":{"x":"independent","y":"independent"}},"layer":[
{"transform":[{"filter":{"field":"d","valid":true}}],"mark":{"type":"line","color":"#000","strokeWidth":1.6,"strokeDash":[1,2.2]},"encoding":{"x":{"field":"r","type":"quantitative","scale":{"domain":[200,1400],"nice":false},"axis":{"orient":"bottom","values":[200,300,400,500,600,700,800,900,1000,1100,1200,1300,1400],"labels":false,"title":null,"encode":{"ticks":{"update":{"y2":{"signal":"datum.value%500?-4.5:-9"}}}}}},"y":{"field":"d","type":"quantitative","scale":{"domain":[0,11],"nice":false},"axis":{"orient":"left","values":[0,0.5,1,1.5,2,2.5,3,3.5,4,4.5,5,5.5,6,6.5,7,7.5,8,8.5,9,9.5,10,10.5,11],"labels":false,"title":null,"encode":{"ticks":{"update":{"x2":{"signal":"datum.value%2?4.5:9"}}}}}}}},
{"transform":[{"filter":{"field":"m","valid":true}}],"mark":{"type":"line","color":"#000","strokeWidth":0.8,"interpolate":"monotone"},"encoding":{"x":{"field":"r","type":"quantitative","scale":{"domain":[200,1400],"nice":false},"axis":{"orient":"top","values":[200,300,400,500,600,700,800,900,1000,1100,1200,1300,1400],"labels":false,"title":null,"encode":{"ticks":{"update":{"y2":{"signal":"datum.value%500?4.5:9"}}}}}},"y":{"field":"m","type":"quantitative","scale":{"domain":[0,11],"nice":false},"axis":{"orient":"right","values":[0,0.5,1,1.5,2,2.5,3,3.5,4,4.5,5,5.5,6,6.5,7,7.5,8,8.5,9,9.5,10,10.5,11],"labels":false,"title":null,"encode":{"ticks":{"update":{"x2":{"signal":"datum.value%2?-4.5:-9"}}}}}}}},
{"transform":[{"filter":{"field":"t","valid":true}}],"mark":{"type":"point","shape":"triangle-up","filled":true,"color":"#000","opacity":1,"size":40},"encoding":{"x":{"field":"r","type":"quantitative","scale":{"domain":[200,1400],"nice":false},"axis":null},"y":{"field":"t","type":"quantitative","scale":{"domain":[0,11],"nice":false},"axis":null}}},
{"transform":[{"filter":{"field":"o","valid":true}}],"mark":{"type":"point","shape":"circle","filled":false,"color":"#000","opacity":1,"size":60,"strokeWidth":0.9},"encoding":{"x":{"field":"r","type":"quantitative","scale":{"domain":[200,1400],"nice":false},"axis":null},"y":{"field":"o","type":"quantitative","scale":{"domain":[0,11],"nice":false},"axis":null}}},
{"transform":[{"filter":{"field":"c","valid":true}}],"mark":{"type":"point","shape":"M-1,-1L1,1M-1,1L1,-1","filled":false,"color":"#000","opacity":1,"size":40,"strokeWidth":1},"encoding":{"x":{"field":"r","type":"quantitative","scale":{"domain":[200,1400],"nice":false},"axis":null},"y":{"field":"c","type":"quantitative","scale":{"domain":[0,11],"nice":false},"axis":null}}},
{"data":{"values":[{}]},"mark":{"type":"text","text":"(2)","align":"right","baseline":"middle","font":"DejaVu Sans","fontSize":14,"color":"#404040"},"encoding":{"x":{"datum":1325,"type":"quantitative","scale":{"domain":[200,1400],"nice":false},"axis":null},"y":{"datum":10,"type":"quantitative","scale":{"domain":[0,11],"nice":false},"axis":null}}}]},
{"width":206,"height":164,"data":{"name":"p3"},"resolve":{"axis":{"x":"independent","y":"independent"}},"layer":[
{"transform":[{"filter":{"field":"d","valid":true}}],"mark":{"type":"line","color":"#000","strokeWidth":1.6,"strokeDash":[1,2.2]},"encoding":{"x":{"field":"r","type":"quantitative","scale":{"domain":[200,1400],"nice":false},"axis":{"orient":"bottom","values":[200,300,400,500,600,700,800,900,1000,1100,1200,1300,1400],"labels":false,"title":null,"encode":{"ticks":{"update":{"y2":{"signal":"datum.value%500?-4.5:-9"}}}}}},"y":{"field":"d","type":"quantitative","scale":{"domain":[0,11],"nice":false},"axis":{"orient":"left","values":[0,0.5,1,1.5,2,2.5,3,3.5,4,4.5,5,5.5,6,6.5,7,7.5,8,8.5,9,9.5,10,10.5,11],"labels":false,"title":null,"encode":{"ticks":{"update":{"x2":{"signal":"datum.value%2?4.5:9"}}}}}}}},
{"transform":[{"filter":{"field":"m","valid":true}}],"mark":{"type":"line","color":"#000","strokeWidth":0.8,"interpolate":"monotone"},"encoding":{"x":{"field":"r","type":"quantitative","scale":{"domain":[200,1400],"nice":false},"axis":{"orient":"top","values":[200,300,400,500,600,700,800,900,1000,1100,1200,1300,1400],"labels":false,"title":null,"encode":{"ticks":{"update":{"y2":{"signal":"datum.value%500?4.5:9"}}}}}},"y":{"field":"m","type":"quantitative","scale":{"domain":[0,11],"nice":false},"axis":{"orient":"right","values":[0,0.5,1,1.5,2,2.5,3,3.5,4,4.5,5,5.5,6,6.5,7,7.5,8,8.5,9,9.5,10,10.5,11],"labels":false,"title":null,"encode":{"ticks":{"update":{"x2":{"signal":"datum.value%2?-4.5:-9"}}}}}}}},
{"transform":[{"filter":{"field":"t","valid":true}}],"mark":{"type":"point","shape":"triangle-up","filled":true,"color":"#000","opacity":1,"size":40},"encoding":{"x":{"field":"r","type":"quantitative","scale":{"domain":[200,1400],"nice":false},"axis":null},"y":{"field":"t","type":"quantitative","scale":{"domain":[0,11],"nice":false},"axis":null}}},
{"transform":[{"filter":{"field":"o","valid":true}}],"mark":{"type":"point","shape":"circle","filled":false,"color":"#000","opacity":1,"size":60,"strokeWidth":0.9},"encoding":{"x":{"field":"r","type":"quantitative","scale":{"domain":[200,1400],"nice":false},"axis":null},"y":{"field":"o","type":"quantitative","scale":{"domain":[0,11],"nice":false},"axis":null}}},
{"transform":[{"filter":{"field":"c","valid":true}}],"mark":{"type":"point","shape":"M-1,-1L1,1M-1,1L1,-1","filled":false,"color":"#000","opacity":1,"size":40,"strokeWidth":1},"encoding":{"x":{"field":"r","type":"quantitative","scale":{"domain":[200,1400],"nice":false},"axis":null},"y":{"field":"c","type":"quantitative","scale":{"domain":[0,11],"nice":false},"axis":null}}},
{"data":{"values":[{}]},"mark":{"type":"text","text":"(3)","align":"right","baseline":"middle","font":"DejaVu Sans","fontSize":14,"color":"#404040"},"encoding":{"x":{"datum":1325,"type":"quantitative","scale":{"domain":[200,1400],"nice":false},"axis":null},"y":{"datum":10,"type":"quantitative","scale":{"domain":[0,11],"nice":false},"axis":null}}}]},
{"width":206,"height":164,"data":{"name":"p4"},"resolve":{"axis":{"x":"independent","y":"independent"}},"layer":[
{"transform":[{"filter":{"field":"d","valid":true}}],"mark":{"type":"line","color":"#000","strokeWidth":1.6,"strokeDash":[1,2.2]},"encoding":{"x":{"field":"r","type":"quantitative","scale":{"domain":[200,1400],"nice":false},"axis":{"orient":"bottom","values":[200,300,400,500,600,700,800,900,1000,1100,1200,1300,1400],"labels":false,"title":null,"encode":{"ticks":{"update":{"y2":{"signal":"datum.value%500?-4.5:-9"}}}}}},"y":{"field":"d","type":"quantitative","scale":{"domain":[0,11],"nice":false},"axis":{"orient":"left","values":[0,0.5,1,1.5,2,2.5,3,3.5,4,4.5,5,5.5,6,6.5,7,7.5,8,8.5,9,9.5,10,10.5,11],"labels":false,"title":null,"encode":{"ticks":{"update":{"x2":{"signal":"datum.value%2?4.5:9"}}}}}}}},
{"transform":[{"filter":{"field":"m","valid":true}}],"mark":{"type":"line","color":"#000","strokeWidth":0.8,"interpolate":"monotone"},"encoding":{"x":{"field":"r","type":"quantitative","scale":{"domain":[200,1400],"nice":false},"axis":{"orient":"top","values":[200,300,400,500,600,700,800,900,1000,1100,1200,1300,1400],"labels":false,"title":null,"encode":{"ticks":{"update":{"y2":{"signal":"datum.value%500?4.5:9"}}}}}},"y":{"field":"m","type":"quantitative","scale":{"domain":[0,11],"nice":false},"axis":{"orient":"right","values":[0,0.5,1,1.5,2,2.5,3,3.5,4,4.5,5,5.5,6,6.5,7,7.5,8,8.5,9,9.5,10,10.5,11],"labels":false,"title":null,"encode":{"ticks":{"update":{"x2":{"signal":"datum.value%2?-4.5:-9"}}}}}}}},
{"transform":[{"filter":{"field":"t","valid":true}}],"mark":{"type":"point","shape":"triangle-up","filled":true,"color":"#000","opacity":1,"size":40},"encoding":{"x":{"field":"r","type":"quantitative","scale":{"domain":[200,1400],"nice":false},"axis":null},"y":{"field":"t","type":"quantitative","scale":{"domain":[0,11],"nice":false},"axis":null}}},
{"transform":[{"filter":{"field":"o","valid":true}}],"mark":{"type":"point","shape":"circle","filled":false,"color":"#000","opacity":1,"size":60,"strokeWidth":0.9},"encoding":{"x":{"field":"r","type":"quantitative","scale":{"domain":[200,1400],"nice":false},"axis":null},"y":{"field":"o","type":"quantitative","scale":{"domain":[0,11],"nice":false},"axis":null}}},
{"transform":[{"filter":{"field":"c","valid":true}}],"mark":{"type":"point","shape":"M-1,-1L1,1M-1,1L1,-1","filled":false,"color":"#000","opacity":1,"size":40,"strokeWidth":1},"encoding":{"x":{"field":"r","type":"quantitative","scale":{"domain":[200,1400],"nice":false},"axis":null},"y":{"field":"c","type":"quantitative","scale":{"domain":[0,11],"nice":false},"axis":null}}},
{"data":{"values":[{}]},"mark":{"type":"text","text":"(4)","align":"right","baseline":"middle","font":"DejaVu Sans","fontSize":14,"color":"#404040"},"encoding":{"x":{"datum":1325,"type":"quantitative","scale":{"domain":[200,1400],"nice":false},"axis":null},"y":{"datum":10,"type":"quantitative","scale":{"domain":[0,11],"nice":false},"axis":null}}}]},
{"width":206,"height":164,"data":{"name":"p5"},"resolve":{"axis":{"x":"independent","y":"independent"}},"layer":[
{"transform":[{"filter":{"field":"d","valid":true}}],"mark":{"type":"line","color":"#000","strokeWidth":1.6,"strokeDash":[1,2.2]},"encoding":{"x":{"field":"r","type":"quantitative","scale":{"domain":[200,1400],"nice":false},"axis":{"orient":"bottom","values":[200,300,400,500,600,700,800,900,1000,1100,1200,1300,1400],"labels":false,"title":null,"encode":{"ticks":{"update":{"y2":{"signal":"datum.value%500?-4.5:-9"}}}}}},"y":{"field":"d","type":"quantitative","scale":{"domain":[0,11],"nice":false},"axis":{"orient":"left","values":[0,0.5,1,1.5,2,2.5,3,3.5,4,4.5,5,5.5,6,6.5,7,7.5,8,8.5,9,9.5,10,10.5,11],"labels":true,"labelExpr":"datum.value%2?'':''+datum.value","title":"S","encode":{"ticks":{"update":{"x2":{"signal":"datum.value%2?4.5:9"}}}}}}}},
{"transform":[{"filter":{"field":"m","valid":true}}],"mark":{"type":"line","color":"#000","strokeWidth":0.8,"interpolate":"monotone"},"encoding":{"x":{"field":"r","type":"quantitative","scale":{"domain":[200,1400],"nice":false},"axis":{"orient":"top","values":[200,300,400,500,600,700,800,900,1000,1100,1200,1300,1400],"labels":false,"title":null,"encode":{"ticks":{"update":{"y2":{"signal":"datum.value%500?4.5:9"}}}}}},"y":{"field":"m","type":"quantitative","scale":{"domain":[0,11],"nice":false},"axis":{"orient":"right","values":[0,0.5,1,1.5,2,2.5,3,3.5,4,4.5,5,5.5,6,6.5,7,7.5,8,8.5,9,9.5,10,10.5,11],"labels":false,"title":null,"encode":{"ticks":{"update":{"x2":{"signal":"datum.value%2?-4.5:-9"}}}}}}}},
{"transform":[{"filter":{"field":"t","valid":true}}],"mark":{"type":"point","shape":"triangle-up","filled":true,"color":"#000","opacity":1,"size":40},"encoding":{"x":{"field":"r","type":"quantitative","scale":{"domain":[200,1400],"nice":false},"axis":null},"y":{"field":"t","type":"quantitative","scale":{"domain":[0,11],"nice":false},"axis":null}}},
{"transform":[{"filter":{"field":"o","valid":true}}],"mark":{"type":"point","shape":"circle","filled":false,"color":"#000","opacity":1,"size":60,"strokeWidth":0.9},"encoding":{"x":{"field":"r","type":"quantitative","scale":{"domain":[200,1400],"nice":false},"axis":null},"y":{"field":"o","type":"quantitative","scale":{"domain":[0,11],"nice":false},"axis":null}}},
{"transform":[{"filter":{"field":"c","valid":true}}],"mark":{"type":"point","shape":"M-1,-1L1,1M-1,1L1,-1","filled":false,"color":"#000","opacity":1,"size":40,"strokeWidth":1},"encoding":{"x":{"field":"r","type":"quantitative","scale":{"domain":[200,1400],"nice":false},"axis":null},"y":{"field":"c","type":"quantitative","scale":{"domain":[0,11],"nice":false},"axis":null}}},
{"data":{"values":[{}]},"mark":{"type":"text","text":"(5)","align":"right","baseline":"middle","font":"DejaVu Sans","fontSize":14,"color":"#404040"},"encoding":{"x":{"datum":1325,"type":"quantitative","scale":{"domain":[200,1400],"nice":false},"axis":null},"y":{"datum":10,"type":"quantitative","scale":{"domain":[0,11],"nice":false},"axis":null}}}]},
{"width":206,"height":164,"data":{"name":"p6"},"resolve":{"axis":{"x":"independent","y":"independent"}},"layer":[
{"transform":[{"filter":{"field":"d","valid":true}}],"mark":{"type":"line","color":"#000","strokeWidth":1.6,"strokeDash":[1,2.2]},"encoding":{"x":{"field":"r","type":"quantitative","scale":{"domain":[200,1400],"nice":false},"axis":{"orient":"bottom","values":[200,300,400,500,600,700,800,900,1000,1100,1200,1300,1400],"labels":false,"title":null,"encode":{"ticks":{"update":{"y2":{"signal":"datum.value%500?-4.5:-9"}}}}}},"y":{"field":"d","type":"quantitative","scale":{"domain":[0,11],"nice":false},"axis":{"orient":"left","values":[0,0.5,1,1.5,2,2.5,3,3.5,4,4.5,5,5.5,6,6.5,7,7.5,8,8.5,9,9.5,10,10.5,11],"labels":false,"title":null,"encode":{"ticks":{"update":{"x2":{"signal":"datum.value%2?4.5:9"}}}}}}}},
{"transform":[{"filter":{"field":"m","valid":true}}],"mark":{"type":"line","color":"#000","strokeWidth":0.8,"interpolate":"monotone"},"encoding":{"x":{"field":"r","type":"quantitative","scale":{"domain":[200,1400],"nice":false},"axis":{"orient":"top","values":[200,300,400,500,600,700,800,900,1000,1100,1200,1300,1400],"labels":false,"title":null,"encode":{"ticks":{"update":{"y2":{"signal":"datum.value%500?4.5:9"}}}}}},"y":{"field":"m","type":"quantitative","scale":{"domain":[0,11],"nice":false},"axis":{"orient":"right","values":[0,0.5,1,1.5,2,2.5,3,3.5,4,4.5,5,5.5,6,6.5,7,7.5,8,8.5,9,9.5,10,10.5,11],"labels":false,"title":null,"encode":{"ticks":{"update":{"x2":{"signal":"datum.value%2?-4.5:-9"}}}}}}}},
{"transform":[{"filter":{"field":"t","valid":true}}],"mark":{"type":"point","shape":"triangle-up","filled":true,"color":"#000","opacity":1,"size":40},"encoding":{"x":{"field":"r","type":"quantitative","scale":{"domain":[200,1400],"nice":false},"axis":null},"y":{"field":"t","type":"quantitative","scale":{"domain":[0,11],"nice":false},"axis":null}}},
{"transform":[{"filter":{"field":"o","valid":true}}],"mark":{"type":"point","shape":"circle","filled":false,"color":"#000","opacity":1,"size":60,"strokeWidth":0.9},"encoding":{"x":{"field":"r","type":"quantitative","scale":{"domain":[200,1400],"nice":false},"axis":null},"y":{"field":"o","type":"quantitative","scale":{"domain":[0,11],"nice":false},"axis":null}}},
{"transform":[{"filter":{"field":"c","valid":true}}],"mark":{"type":"point","shape":"M-1,-1L1,1M-1,1L1,-1","filled":false,"color":"#000","opacity":1,"size":40,"strokeWidth":1},"encoding":{"x":{"field":"r","type":"quantitative","scale":{"domain":[200,1400],"nice":false},"axis":null},"y":{"field":"c","type":"quantitative","scale":{"domain":[0,11],"nice":false},"axis":null}}},
{"data":{"values":[{}]},"mark":{"type":"text","text":"(6)","align":"right","baseline":"middle","font":"DejaVu Sans","fontSize":14,"color":"#404040"},"encoding":{"x":{"datum":1325,"type":"quantitative","scale":{"domain":[200,1400],"nice":false},"axis":null},"y":{"datum":10,"type":"quantitative","scale":{"domain":[0,11],"nice":false},"axis":null}}}]},
{"width":206,"height":164,"data":{"name":"p7"},"resolve":{"axis":{"x":"independent","y":"independent"}},"layer":[
{"transform":[{"filter":{"field":"d","valid":true}}],"mark":{"type":"line","color":"#000","strokeWidth":1.6,"strokeDash":[1,2.2]},"encoding":{"x":{"field":"r","type":"quantitative","scale":{"domain":[200,1400],"nice":false},"axis":{"orient":"bottom","values":[200,300,400,500,600,700,800,900,1000,1100,1200,1300,1400],"labels":false,"title":null,"encode":{"ticks":{"update":{"y2":{"signal":"datum.value%500?-4.5:-9"}}}}}},"y":{"field":"d","type":"quantitative","scale":{"domain":[0,11],"nice":false},"axis":{"orient":"left","values":[0,0.5,1,1.5,2,2.5,3,3.5,4,4.5,5,5.5,6,6.5,7,7.5,8,8.5,9,9.5,10,10.5,11],"labels":false,"title":null,"encode":{"ticks":{"update":{"x2":{"signal":"datum.value%2?4.5:9"}}}}}}}},
{"transform":[{"filter":{"field":"m","valid":true}}],"mark":{"type":"line","color":"#000","strokeWidth":0.8,"interpolate":"monotone"},"encoding":{"x":{"field":"r","type":"quantitative","scale":{"domain":[200,1400],"nice":false},"axis":{"orient":"top","values":[200,300,400,500,600,700,800,900,1000,1100,1200,1300,1400],"labels":false,"title":null,"encode":{"ticks":{"update":{"y2":{"signal":"datum.value%500?4.5:9"}}}}}},"y":{"field":"m","type":"quantitative","scale":{"domain":[0,11],"nice":false},"axis":{"orient":"right","values":[0,0.5,1,1.5,2,2.5,3,3.5,4,4.5,5,5.5,6,6.5,7,7.5,8,8.5,9,9.5,10,10.5,11],"labels":false,"title":null,"encode":{"ticks":{"update":{"x2":{"signal":"datum.value%2?-4.5:-9"}}}}}}}},
{"transform":[{"filter":{"field":"t","valid":true}}],"mark":{"type":"point","shape":"triangle-up","filled":true,"color":"#000","opacity":1,"size":40},"encoding":{"x":{"field":"r","type":"quantitative","scale":{"domain":[200,1400],"nice":false},"axis":null},"y":{"field":"t","type":"quantitative","scale":{"domain":[0,11],"nice":false},"axis":null}}},
{"transform":[{"filter":{"field":"o","valid":true}}],"mark":{"type":"point","shape":"circle","filled":false,"color":"#000","opacity":1,"size":60,"strokeWidth":0.9},"encoding":{"x":{"field":"r","type":"quantitative","scale":{"domain":[200,1400],"nice":false},"axis":null},"y":{"field":"o","type":"quantitative","scale":{"domain":[0,11],"nice":false},"axis":null}}},
{"transform":[{"filter":{"field":"c","valid":true}}],"mark":{"type":"point","shape":"M-1,-1L1,1M-1,1L1,-1","filled":false,"color":"#000","opacity":1,"size":40,"strokeWidth":1},"encoding":{"x":{"field":"r","type":"quantitative","scale":{"domain":[200,1400],"nice":false},"axis":null},"y":{"field":"c","type":"quantitative","scale":{"domain":[0,11],"nice":false},"axis":null}}},
{"data":{"values":[{}]},"mark":{"type":"text","text":"(7)","align":"right","baseline":"middle","font":"DejaVu Sans","fontSize":14,"color":"#404040"},"encoding":{"x":{"datum":1325,"type":"quantitative","scale":{"domain":[200,1400],"nice":false},"axis":null},"y":{"datum":10,"type":"quantitative","scale":{"domain":[0,11],"nice":false},"axis":null}}}]},
{"width":206,"height":164,"data":{"name":"p8"},"resolve":{"axis":{"x":"independent","y":"independent"}},"layer":[
{"transform":[{"filter":{"field":"d","valid":true}}],"mark":{"type":"line","color":"#000","strokeWidth":1.6,"strokeDash":[1,2.2]},"encoding":{"x":{"field":"r","type":"quantitative","scale":{"domain":[200,1400],"nice":false},"axis":{"orient":"bottom","values":[200,300,400,500,600,700,800,900,1000,1100,1200,1300,1400],"labels":false,"title":null,"encode":{"ticks":{"update":{"y2":{"signal":"datum.value%500?-4.5:-9"}}}}}},"y":{"field":"d","type":"quantitative","scale":{"domain":[0,11],"nice":false},"axis":{"orient":"left","values":[0,0.5,1,1.5,2,2.5,3,3.5,4,4.5,5,5.5,6,6.5,7,7.5,8,8.5,9,9.5,10,10.5,11],"labels":false,"title":null,"encode":{"ticks":{"update":{"x2":{"signal":"datum.value%2?4.5:9"}}}}}}}},
{"transform":[{"filter":{"field":"m","valid":true}}],"mark":{"type":"line","color":"#000","strokeWidth":0.8,"interpolate":"monotone"},"encoding":{"x":{"field":"r","type":"quantitative","scale":{"domain":[200,1400],"nice":false},"axis":{"orient":"top","values":[200,300,400,500,600,700,800,900,1000,1100,1200,1300,1400],"labels":false,"title":null,"encode":{"ticks":{"update":{"y2":{"signal":"datum.value%500?4.5:9"}}}}}},"y":{"field":"m","type":"quantitative","scale":{"domain":[0,11],"nice":false},"axis":{"orient":"right","values":[0,0.5,1,1.5,2,2.5,3,3.5,4,4.5,5,5.5,6,6.5,7,7.5,8,8.5,9,9.5,10,10.5,11],"labels":false,"title":null,"encode":{"ticks":{"update":{"x2":{"signal":"datum.value%2?-4.5:-9"}}}}}}}},
{"transform":[{"filter":{"field":"t","valid":true}}],"mark":{"type":"point","shape":"triangle-up","filled":true,"color":"#000","opacity":1,"size":40},"encoding":{"x":{"field":"r","type":"quantitative","scale":{"domain":[200,1400],"nice":false},"axis":null},"y":{"field":"t","type":"quantitative","scale":{"domain":[0,11],"nice":false},"axis":null}}},
{"transform":[{"filter":{"field":"o","valid":true}}],"mark":{"type":"point","shape":"circle","filled":false,"color":"#000","opacity":1,"size":60,"strokeWidth":0.9},"encoding":{"x":{"field":"r","type":"quantitative","scale":{"domain":[200,1400],"nice":false},"axis":null},"y":{"field":"o","type":"quantitative","scale":{"domain":[0,11],"nice":false},"axis":null}}},
{"transform":[{"filter":{"field":"c","valid":true}}],"mark":{"type":"point","shape":"M-1,-1L1,1M-1,1L1,-1","filled":false,"color":"#000","opacity":1,"size":40,"strokeWidth":1},"encoding":{"x":{"field":"r","type":"quantitative","scale":{"domain":[200,1400],"nice":false},"axis":null},"y":{"field":"c","type":"quantitative","scale":{"domain":[0,11],"nice":false},"axis":null}}},
{"data":{"values":[{}]},"mark":{"type":"text","text":"(8)","align":"right","baseline":"middle","font":"DejaVu Sans","fontSize":14,"color":"#404040"},"encoding":{"x":{"datum":1325,"type":"quantitative","scale":{"domain":[200,1400],"nice":false},"axis":null},"y":{"datum":10,"type":"quantitative","scale":{"domain":[0,11],"nice":false},"axis":null}}}]},
{"width":206,"height":164,"data":{"name":"p9"},"resolve":{"axis":{"x":"independent","y":"independent"}},"layer":[
{"transform":[{"filter":{"field":"d","valid":true}}],"mark":{"type":"line","color":"#000","strokeWidth":1.6,"strokeDash":[1,2.2]},"encoding":{"x":{"field":"r","type":"quantitative","scale":{"domain":[200,1400],"nice":false},"axis":{"orient":"bottom","values":[200,300,400,500,600,700,800,900,1000,1100,1200,1300,1400],"labels":false,"title":null,"encode":{"ticks":{"update":{"y2":{"signal":"datum.value%500?-4.5:-9"}}}}}},"y":{"field":"d","type":"quantitative","scale":{"domain":[0,11],"nice":false},"axis":{"orient":"left","values":[0,0.5,1,1.5,2,2.5,3,3.5,4,4.5,5,5.5,6,6.5,7,7.5,8,8.5,9,9.5,10,10.5,11],"labels":true,"labelExpr":"datum.value%2?'':''+datum.value","title":"S","encode":{"ticks":{"update":{"x2":{"signal":"datum.value%2?4.5:9"}}}}}}}},
{"transform":[{"filter":{"field":"m","valid":true}}],"mark":{"type":"line","color":"#000","strokeWidth":0.8,"interpolate":"monotone"},"encoding":{"x":{"field":"r","type":"quantitative","scale":{"domain":[200,1400],"nice":false},"axis":{"orient":"top","values":[200,300,400,500,600,700,800,900,1000,1100,1200,1300,1400],"labels":false,"title":null,"encode":{"ticks":{"update":{"y2":{"signal":"datum.value%500?4.5:9"}}}}}},"y":{"field":"m","type":"quantitative","scale":{"domain":[0,11],"nice":false},"axis":{"orient":"right","values":[0,0.5,1,1.5,2,2.5,3,3.5,4,4.5,5,5.5,6,6.5,7,7.5,8,8.5,9,9.5,10,10.5,11],"labels":false,"title":null,"encode":{"ticks":{"update":{"x2":{"signal":"datum.value%2?-4.5:-9"}}}}}}}},
{"transform":[{"filter":{"field":"t","valid":true}}],"mark":{"type":"point","shape":"triangle-up","filled":true,"color":"#000","opacity":1,"size":40},"encoding":{"x":{"field":"r","type":"quantitative","scale":{"domain":[200,1400],"nice":false},"axis":null},"y":{"field":"t","type":"quantitative","scale":{"domain":[0,11],"nice":false},"axis":null}}},
{"transform":[{"filter":{"field":"o","valid":true}}],"mark":{"type":"point","shape":"circle","filled":false,"color":"#000","opacity":1,"size":60,"strokeWidth":0.9},"encoding":{"x":{"field":"r","type":"quantitative","scale":{"domain":[200,1400],"nice":false},"axis":null},"y":{"field":"o","type":"quantitative","scale":{"domain":[0,11],"nice":false},"axis":null}}},
{"transform":[{"filter":{"field":"c","valid":true}}],"mark":{"type":"point","shape":"M-1,-1L1,1M-1,1L1,-1","filled":false,"color":"#000","opacity":1,"size":40,"strokeWidth":1},"encoding":{"x":{"field":"r","type":"quantitative","scale":{"domain":[200,1400],"nice":false},"axis":null},"y":{"field":"c","type":"quantitative","scale":{"domain":[0,11],"nice":false},"axis":null}}},
{"data":{"values":[{}]},"mark":{"type":"text","text":"(9)","align":"right","baseline":"middle","font":"DejaVu Sans","fontSize":14,"color":"#404040"},"encoding":{"x":{"datum":1325,"type":"quantitative","scale":{"domain":[200,1400],"nice":false},"axis":null},"y":{"datum":10,"type":"quantitative","scale":{"domain":[0,11],"nice":false},"axis":null}}}]},
{"width":206,"height":164,"data":{"name":"p10"},"resolve":{"axis":{"x":"independent","y":"independent"}},"layer":[
{"transform":[{"filter":{"field":"d","valid":true}}],"mark":{"type":"line","color":"#000","strokeWidth":1.6,"strokeDash":[1,2.2]},"encoding":{"x":{"field":"r","type":"quantitative","scale":{"domain":[200,1400],"nice":false},"axis":{"orient":"bottom","values":[200,300,400,500,600,700,800,900,1000,1100,1200,1300,1400],"labels":false,"title":null,"encode":{"ticks":{"update":{"y2":{"signal":"datum.value%500?-4.5:-9"}}}}}},"y":{"field":"d","type":"quantitative","scale":{"domain":[0,11],"nice":false},"axis":{"orient":"left","values":[0,0.5,1,1.5,2,2.5,3,3.5,4,4.5,5,5.5,6,6.5,7,7.5,8,8.5,9,9.5,10,10.5,11],"labels":false,"title":null,"encode":{"ticks":{"update":{"x2":{"signal":"datum.value%2?4.5:9"}}}}}}}},
{"transform":[{"filter":{"field":"m","valid":true}}],"mark":{"type":"line","color":"#000","strokeWidth":0.8,"interpolate":"monotone"},"encoding":{"x":{"field":"r","type":"quantitative","scale":{"domain":[200,1400],"nice":false},"axis":{"orient":"top","values":[200,300,400,500,600,700,800,900,1000,1100,1200,1300,1400],"labels":false,"title":null,"encode":{"ticks":{"update":{"y2":{"signal":"datum.value%500?4.5:9"}}}}}},"y":{"field":"m","type":"quantitative","scale":{"domain":[0,11],"nice":false},"axis":{"orient":"right","values":[0,0.5,1,1.5,2,2.5,3,3.5,4,4.5,5,5.5,6,6.5,7,7.5,8,8.5,9,9.5,10,10.5,11],"labels":false,"title":null,"encode":{"ticks":{"update":{"x2":{"signal":"datum.value%2?-4.5:-9"}}}}}}}},
{"transform":[{"filter":{"field":"t","valid":true}}],"mark":{"type":"point","shape":"triangle-up","filled":true,"color":"#000","opacity":1,"size":40},"encoding":{"x":{"field":"r","type":"quantitative","scale":{"domain":[200,1400],"nice":false},"axis":null},"y":{"field":"t","type":"quantitative","scale":{"domain":[0,11],"nice":false},"axis":null}}},
{"transform":[{"filter":{"field":"o","valid":true}}],"mark":{"type":"point","shape":"circle","filled":false,"color":"#000","opacity":1,"size":60,"strokeWidth":0.9},"encoding":{"x":{"field":"r","type":"quantitative","scale":{"domain":[200,1400],"nice":false},"axis":null},"y":{"field":"o","type":"quantitative","scale":{"domain":[0,11],"nice":false},"axis":null}}},
{"transform":[{"filter":{"field":"c","valid":true}}],"mark":{"type":"point","shape":"M-1,-1L1,1M-1,1L1,-1","filled":false,"color":"#000","opacity":1,"size":40,"strokeWidth":1},"encoding":{"x":{"field":"r","type":"quantitative","scale":{"domain":[200,1400],"nice":false},"axis":null},"y":{"field":"c","type":"quantitative","scale":{"domain":[0,11],"nice":false},"axis":null}}},
{"data":{"values":[{}]},"mark":{"type":"text","text":"(10)","align":"right","baseline":"middle","font":"DejaVu Sans","fontSize":14,"color":"#404040"},"encoding":{"x":{"datum":1325,"type":"quantitative","scale":{"domain":[200,1400],"nice":false},"axis":null},"y":{"datum":10,"type":"quantitative","scale":{"domain":[0,11],"nice":false},"axis":null}}}]},
{"width":206,"height":164,"data":{"name":"p11"},"resolve":{"axis":{"x":"independent","y":"independent"}},"layer":[
{"transform":[{"filter":{"field":"d","valid":true}}],"mark":{"type":"line","color":"#000","strokeWidth":1.6,"strokeDash":[1,2.2]},"encoding":{"x":{"field":"r","type":"quantitative","scale":{"domain":[200,1400],"nice":false},"axis":{"orient":"bottom","values":[200,300,400,500,600,700,800,900,1000,1100,1200,1300,1400],"labels":false,"title":null,"encode":{"ticks":{"update":{"y2":{"signal":"datum.value%500?-4.5:-9"}}}}}},"y":{"field":"d","type":"quantitative","scale":{"domain":[0,11],"nice":false},"axis":{"orient":"left","values":[0,0.5,1,1.5,2,2.5,3,3.5,4,4.5,5,5.5,6,6.5,7,7.5,8,8.5,9,9.5,10,10.5,11],"labels":false,"title":null,"encode":{"ticks":{"update":{"x2":{"signal":"datum.value%2?4.5:9"}}}}}}}},
{"transform":[{"filter":{"field":"m","valid":true}}],"mark":{"type":"line","color":"#000","strokeWidth":0.8,"interpolate":"monotone"},"encoding":{"x":{"field":"r","type":"quantitative","scale":{"domain":[200,1400],"nice":false},"axis":{"orient":"top","values":[200,300,400,500,600,700,800,900,1000,1100,1200,1300,1400],"labels":false,"title":null,"encode":{"ticks":{"update":{"y2":{"signal":"datum.value%500?4.5:9"}}}}}},"y":{"field":"m","type":"quantitative","scale":{"domain":[0,11],"nice":false},"axis":{"orient":"right","values":[0,0.5,1,1.5,2,2.5,3,3.5,4,4.5,5,5.5,6,6.5,7,7.5,8,8.5,9,9.5,10,10.5,11],"labels":false,"title":null,"encode":{"ticks":{"update":{"x2":{"signal":"datum.value%2?-4.5:-9"}}}}}}}},
{"transform":[{"filter":{"field":"t","valid":true}}],"mark":{"type":"point","shape":"triangle-up","filled":true,"color":"#000","opacity":1,"size":40},"encoding":{"x":{"field":"r","type":"quantitative","scale":{"domain":[200,1400],"nice":false},"axis":null},"y":{"field":"t","type":"quantitative","scale":{"domain":[0,11],"nice":false},"axis":null}}},
{"transform":[{"filter":{"field":"o","valid":true}}],"mark":{"type":"point","shape":"circle","filled":false,"color":"#000","opacity":1,"size":60,"strokeWidth":0.9},"encoding":{"x":{"field":"r","type":"quantitative","scale":{"domain":[200,1400],"nice":false},"axis":null},"y":{"field":"o","type":"quantitative","scale":{"domain":[0,11],"nice":false},"axis":null}}},
{"transform":[{"filter":{"field":"c","valid":true}}],"mark":{"type":"point","shape":"M-1,-1L1,1M-1,1L1,-1","filled":false,"color":"#000","opacity":1,"size":40,"strokeWidth":1},"encoding":{"x":{"field":"r","type":"quantitative","scale":{"domain":[200,1400],"nice":false},"axis":null},"y":{"field":"c","type":"quantitative","scale":{"domain":[0,11],"nice":false},"axis":null}}},
{"data":{"values":[{}]},"mark":{"type":"text","text":"(11)","align":"right","baseline":"middle","font":"DejaVu Sans","fontSize":14,"color":"#404040"},"encoding":{"x":{"datum":1325,"type":"quantitative","scale":{"domain":[200,1400],"nice":false},"axis":null},"y":{"datum":10,"type":"quantitative","scale":{"domain":[0,11],"nice":false},"axis":null}}}]},
{"width":206,"height":164,"data":{"name":"p12"},"resolve":{"axis":{"x":"independent","y":"independent"}},"layer":[
{"transform":[{"filter":{"field":"d","valid":true}}],"mark":{"type":"line","color":"#000","strokeWidth":1.6,"strokeDash":[1,2.2]},"encoding":{"x":{"field":"r","type":"quantitative","scale":{"domain":[200,1400],"nice":false},"axis":{"orient":"bottom","values":[200,300,400,500,600,700,800,900,1000,1100,1200,1300,1400],"labels":false,"title":null,"encode":{"ticks":{"update":{"y2":{"signal":"datum.value%500?-4.5:-9"}}}}}},"y":{"field":"d","type":"quantitative","scale":{"domain":[0,11],"nice":false},"axis":{"orient":"left","values":[0,0.5,1,1.5,2,2.5,3,3.5,4,4.5,5,5.5,6,6.5,7,7.5,8,8.5,9,9.5,10,10.5,11],"labels":false,"title":null,"encode":{"ticks":{"update":{"x2":{"signal":"datum.value%2?4.5:9"}}}}}}}},
{"transform":[{"filter":{"field":"m","valid":true}}],"mark":{"type":"line","color":"#000","strokeWidth":0.8,"interpolate":"monotone"},"encoding":{"x":{"field":"r","type":"quantitative","scale":{"domain":[200,1400],"nice":false},"axis":{"orient":"top","values":[200,300,400,500,600,700,800,900,1000,1100,1200,1300,1400],"labels":false,"title":null,"encode":{"ticks":{"update":{"y2":{"signal":"datum.value%500?4.5:9"}}}}}},"y":{"field":"m","type":"quantitative","scale":{"domain":[0,11],"nice":false},"axis":{"orient":"right","values":[0,0.5,1,1.5,2,2.5,3,3.5,4,4.5,5,5.5,6,6.5,7,7.5,8,8.5,9,9.5,10,10.5,11],"labels":false,"title":null,"encode":{"ticks":{"update":{"x2":{"signal":"datum.value%2?-4.5:-9"}}}}}}}},
{"transform":[{"filter":{"field":"t","valid":true}}],"mark":{"type":"point","shape":"triangle-up","filled":true,"color":"#000","opacity":1,"size":40},"encoding":{"x":{"field":"r","type":"quantitative","scale":{"domain":[200,1400],"nice":false},"axis":null},"y":{"field":"t","type":"quantitative","scale":{"domain":[0,11],"nice":false},"axis":null}}},
{"transform":[{"filter":{"field":"o","valid":true}}],"mark":{"type":"point","shape":"circle","filled":false,"color":"#000","opacity":1,"size":60,"strokeWidth":0.9},"encoding":{"x":{"field":"r","type":"quantitative","scale":{"domain":[200,1400],"nice":false},"axis":null},"y":{"field":"o","type":"quantitative","scale":{"domain":[0,11],"nice":false},"axis":null}}},
{"transform":[{"filter":{"field":"c","valid":true}}],"mark":{"type":"point","shape":"M-1,-1L1,1M-1,1L1,-1","filled":false,"color":"#000","opacity":1,"size":40,"strokeWidth":1},"encoding":{"x":{"field":"r","type":"quantitative","scale":{"domain":[200,1400],"nice":false},"axis":null},"y":{"field":"c","type":"quantitative","scale":{"domain":[0,11],"nice":false},"axis":null}}},
{"data":{"values":[{}]},"mark":{"type":"text","text":"(12)","align":"right","baseline":"middle","font":"DejaVu Sans","fontSize":14,"color":"#404040"},"encoding":{"x":{"datum":1325,"type":"quantitative","scale":{"domain":[200,1400],"nice":false},"axis":null},"y":{"datum":10,"type":"quantitative","scale":{"domain":[0,11],"nice":false},"axis":null}}}]},
{"width":206,"height":164,"data":{"name":"p13"},"resolve":{"axis":{"x":"independent","y":"independent"}},"layer":[
{"transform":[{"filter":{"field":"d","valid":true}}],"mark":{"type":"line","color":"#000","strokeWidth":1.6,"strokeDash":[1,2.2]},"encoding":{"x":{"field":"r","type":"quantitative","scale":{"domain":[200,1400],"nice":false},"axis":{"orient":"bottom","values":[200,300,400,500,600,700,800,900,1000,1100,1200,1300,1400],"labels":false,"title":null,"encode":{"ticks":{"update":{"y2":{"signal":"datum.value%500?-4.5:-9"}}}}}},"y":{"field":"d","type":"quantitative","scale":{"domain":[0,11],"nice":false},"axis":{"orient":"left","values":[0,0.5,1,1.5,2,2.5,3,3.5,4,4.5,5,5.5,6,6.5,7,7.5,8,8.5,9,9.5,10,10.5,11],"labels":true,"labelExpr":"datum.value%2?'':''+datum.value","title":"S","encode":{"ticks":{"update":{"x2":{"signal":"datum.value%2?4.5:9"}}}}}}}},
{"transform":[{"filter":{"field":"m","valid":true}}],"mark":{"type":"line","color":"#000","strokeWidth":0.8,"interpolate":"monotone"},"encoding":{"x":{"field":"r","type":"quantitative","scale":{"domain":[200,1400],"nice":false},"axis":{"orient":"top","values":[200,300,400,500,600,700,800,900,1000,1100,1200,1300,1400],"labels":false,"title":null,"encode":{"ticks":{"update":{"y2":{"signal":"datum.value%500?4.5:9"}}}}}},"y":{"field":"m","type":"quantitative","scale":{"domain":[0,11],"nice":false},"axis":{"orient":"right","values":[0,0.5,1,1.5,2,2.5,3,3.5,4,4.5,5,5.5,6,6.5,7,7.5,8,8.5,9,9.5,10,10.5,11],"labels":false,"title":null,"encode":{"ticks":{"update":{"x2":{"signal":"datum.value%2?-4.5:-9"}}}}}}}},
{"transform":[{"filter":{"field":"t","valid":true}}],"mark":{"type":"point","shape":"triangle-up","filled":true,"color":"#000","opacity":1,"size":40},"encoding":{"x":{"field":"r","type":"quantitative","scale":{"domain":[200,1400],"nice":false},"axis":null},"y":{"field":"t","type":"quantitative","scale":{"domain":[0,11],"nice":false},"axis":null}}},
{"transform":[{"filter":{"field":"o","valid":true}}],"mark":{"type":"point","shape":"circle","filled":false,"color":"#000","opacity":1,"size":60,"strokeWidth":0.9},"encoding":{"x":{"field":"r","type":"quantitative","scale":{"domain":[200,1400],"nice":false},"axis":null},"y":{"field":"o","type":"quantitative","scale":{"domain":[0,11],"nice":false},"axis":null}}},
{"transform":[{"filter":{"field":"c","valid":true}}],"mark":{"type":"point","shape":"M-1,-1L1,1M-1,1L1,-1","filled":false,"color":"#000","opacity":1,"size":40,"strokeWidth":1},"encoding":{"x":{"field":"r","type":"quantitative","scale":{"domain":[200,1400],"nice":false},"axis":null},"y":{"field":"c","type":"quantitative","scale":{"domain":[0,11],"nice":false},"axis":null}}},
{"data":{"values":[{}]},"mark":{"type":"text","text":"(13)","align":"right","baseline":"middle","font":"DejaVu Sans","fontSize":14,"color":"#404040"},"encoding":{"x":{"datum":1325,"type":"quantitative","scale":{"domain":[200,1400],"nice":false},"axis":null},"y":{"datum":10,"type":"quantitative","scale":{"domain":[0,11],"nice":false},"axis":null}}}]},
{"width":206,"height":164,"data":{"name":"p14"},"resolve":{"axis":{"x":"independent","y":"independent"}},"layer":[
{"transform":[{"filter":{"field":"d","valid":true}}],"mark":{"type":"line","color":"#000","strokeWidth":1.6,"strokeDash":[1,2.2]},"encoding":{"x":{"field":"r","type":"quantitative","scale":{"domain":[200,1400],"nice":false},"axis":{"orient":"bottom","values":[200,300,400,500,600,700,800,900,1000,1100,1200,1300,1400],"labels":false,"title":null,"encode":{"ticks":{"update":{"y2":{"signal":"datum.value%500?-4.5:-9"}}}}}},"y":{"field":"d","type":"quantitative","scale":{"domain":[0,11],"nice":false},"axis":{"orient":"left","values":[0,0.5,1,1.5,2,2.5,3,3.5,4,4.5,5,5.5,6,6.5,7,7.5,8,8.5,9,9.5,10,10.5,11],"labels":false,"title":null,"encode":{"ticks":{"update":{"x2":{"signal":"datum.value%2?4.5:9"}}}}}}}},
{"transform":[{"filter":{"field":"m","valid":true}}],"mark":{"type":"line","color":"#000","strokeWidth":0.8,"interpolate":"monotone"},"encoding":{"x":{"field":"r","type":"quantitative","scale":{"domain":[200,1400],"nice":false},"axis":{"orient":"top","values":[200,300,400,500,600,700,800,900,1000,1100,1200,1300,1400],"labels":false,"title":null,"encode":{"ticks":{"update":{"y2":{"signal":"datum.value%500?4.5:9"}}}}}},"y":{"field":"m","type":"quantitative","scale":{"domain":[0,11],"nice":false},"axis":{"orient":"right","values":[0,0.5,1,1.5,2,2.5,3,3.5,4,4.5,5,5.5,6,6.5,7,7.5,8,8.5,9,9.5,10,10.5,11],"labels":false,"title":null,"encode":{"ticks":{"update":{"x2":{"signal":"datum.value%2?-4.5:-9"}}}}}}}},
{"transform":[{"filter":{"field":"t","valid":true}}],"mark":{"type":"point","shape":"triangle-up","filled":true,"color":"#000","opacity":1,"size":40},"encoding":{"x":{"field":"r","type":"quantitative","scale":{"domain":[200,1400],"nice":false},"axis":null},"y":{"field":"t","type":"quantitative","scale":{"domain":[0,11],"nice":false},"axis":null}}},
{"transform":[{"filter":{"field":"o","valid":true}}],"mark":{"type":"point","shape":"circle","filled":false,"color":"#000","opacity":1,"size":60,"strokeWidth":0.9},"encoding":{"x":{"field":"r","type":"quantitative","scale":{"domain":[200,1400],"nice":false},"axis":null},"y":{"field":"o","type":"quantitative","scale":{"domain":[0,11],"nice":false},"axis":null}}},
{"transform":[{"filter":{"field":"c","valid":true}}],"mark":{"type":"point","shape":"M-1,-1L1,1M-1,1L1,-1","filled":false,"color":"#000","opacity":1,"size":40,"strokeWidth":1},"encoding":{"x":{"field":"r","type":"quantitative","scale":{"domain":[200,1400],"nice":false},"axis":null},"y":{"field":"c","type":"quantitative","scale":{"domain":[0,11],"nice":false},"axis":null}}},
{"data":{"values":[{}]},"mark":{"type":"text","text":"(14)","align":"right","baseline":"middle","font":"DejaVu Sans","fontSize":14,"color":"#404040"},"encoding":{"x":{"datum":1325,"type":"quantitative","scale":{"domain":[200,1400],"nice":false},"axis":null},"y":{"datum":10,"type":"quantitative","scale":{"domain":[0,11],"nice":false},"axis":null}}}]},
{"width":206,"height":164,"data":{"name":"p15"},"resolve":{"axis":{"x":"independent","y":"independent"}},"layer":[
{"transform":[{"filter":{"field":"d","valid":true}}],"mark":{"type":"line","color":"#000","strokeWidth":1.6,"strokeDash":[1,2.2]},"encoding":{"x":{"field":"r","type":"quantitative","scale":{"domain":[200,1400],"nice":false},"axis":{"orient":"bottom","values":[200,300,400,500,600,700,800,900,1000,1100,1200,1300,1400],"labels":false,"title":null,"encode":{"ticks":{"update":{"y2":{"signal":"datum.value%500?-4.5:-9"}}}}}},"y":{"field":"d","type":"quantitative","scale":{"domain":[0,11],"nice":false},"axis":{"orient":"left","values":[0,0.5,1,1.5,2,2.5,3,3.5,4,4.5,5,5.5,6,6.5,7,7.5,8,8.5,9,9.5,10,10.5,11],"labels":false,"title":null,"encode":{"ticks":{"update":{"x2":{"signal":"datum.value%2?4.5:9"}}}}}}}},
{"transform":[{"filter":{"field":"m","valid":true}}],"mark":{"type":"line","color":"#000","strokeWidth":0.8,"interpolate":"monotone"},"encoding":{"x":{"field":"r","type":"quantitative","scale":{"domain":[200,1400],"nice":false},"axis":{"orient":"top","values":[200,300,400,500,600,700,800,900,1000,1100,1200,1300,1400],"labels":false,"title":null,"encode":{"ticks":{"update":{"y2":{"signal":"datum.value%500?4.5:9"}}}}}},"y":{"field":"m","type":"quantitative","scale":{"domain":[0,11],"nice":false},"axis":{"orient":"right","values":[0,0.5,1,1.5,2,2.5,3,3.5,4,4.5,5,5.5,6,6.5,7,7.5,8,8.5,9,9.5,10,10.5,11],"labels":false,"title":null,"encode":{"ticks":{"update":{"x2":{"signal":"datum.value%2?-4.5:-9"}}}}}}}},
{"transform":[{"filter":{"field":"t","valid":true}}],"mark":{"type":"point","shape":"triangle-up","filled":true,"color":"#000","opacity":1,"size":40},"encoding":{"x":{"field":"r","type":"quantitative","scale":{"domain":[200,1400],"nice":false},"axis":null},"y":{"field":"t","type":"quantitative","scale":{"domain":[0,11],"nice":false},"axis":null}}},
{"transform":[{"filter":{"field":"o","valid":true}}],"mark":{"type":"point","shape":"circle","filled":false,"color":"#000","opacity":1,"size":60,"strokeWidth":0.9},"encoding":{"x":{"field":"r","type":"quantitative","scale":{"domain":[200,1400],"nice":false},"axis":null},"y":{"field":"o","type":"quantitative","scale":{"domain":[0,11],"nice":false},"axis":null}}},
{"transform":[{"filter":{"field":"c","valid":true}}],"mark":{"type":"point","shape":"M-1,-1L1,1M-1,1L1,-1","filled":false,"color":"#000","opacity":1,"size":40,"strokeWidth":1},"encoding":{"x":{"field":"r","type":"quantitative","scale":{"domain":[200,1400],"nice":false},"axis":null},"y":{"field":"c","type":"quantitative","scale":{"domain":[0,11],"nice":false},"axis":null}}},
{"data":{"values":[{}]},"mark":{"type":"text","text":"(15)","align":"right","baseline":"middle","font":"DejaVu Sans","fontSize":14,"color":"#404040"},"encoding":{"x":{"datum":1325,"type":"quantitative","scale":{"domain":[200,1400],"nice":false},"axis":null},"y":{"datum":10,"type":"quantitative","scale":{"domain":[0,11],"nice":false},"axis":null}}}]},
{"width":206,"height":164,"data":{"name":"p16"},"resolve":{"axis":{"x":"independent","y":"independent"}},"layer":[
{"transform":[{"filter":{"field":"d","valid":true}}],"mark":{"type":"line","color":"#000","strokeWidth":1.6,"strokeDash":[1,2.2]},"encoding":{"x":{"field":"r","type":"quantitative","scale":{"domain":[200,1400],"nice":false},"axis":{"orient":"bottom","values":[200,300,400,500,600,700,800,900,1000,1100,1200,1300,1400],"labels":false,"title":null,"encode":{"ticks":{"update":{"y2":{"signal":"datum.value%500?-4.5:-9"}}}}}},"y":{"field":"d","type":"quantitative","scale":{"domain":[0,11],"nice":false},"axis":{"orient":"left","values":[0,0.5,1,1.5,2,2.5,3,3.5,4,4.5,5,5.5,6,6.5,7,7.5,8,8.5,9,9.5,10,10.5,11],"labels":false,"title":null,"encode":{"ticks":{"update":{"x2":{"signal":"datum.value%2?4.5:9"}}}}}}}},
{"transform":[{"filter":{"field":"m","valid":true}}],"mark":{"type":"line","color":"#000","strokeWidth":0.8,"interpolate":"monotone"},"encoding":{"x":{"field":"r","type":"quantitative","scale":{"domain":[200,1400],"nice":false},"axis":{"orient":"top","values":[200,300,400,500,600,700,800,900,1000,1100,1200,1300,1400],"labels":false,"title":null,"encode":{"ticks":{"update":{"y2":{"signal":"datum.value%500?4.5:9"}}}}}},"y":{"field":"m","type":"quantitative","scale":{"domain":[0,11],"nice":false},"axis":{"orient":"right","values":[0,0.5,1,1.5,2,2.5,3,3.5,4,4.5,5,5.5,6,6.5,7,7.5,8,8.5,9,9.5,10,10.5,11],"labels":false,"title":null,"encode":{"ticks":{"update":{"x2":{"signal":"datum.value%2?-4.5:-9"}}}}}}}},
{"transform":[{"filter":{"field":"t","valid":true}}],"mark":{"type":"point","shape":"triangle-up","filled":true,"color":"#000","opacity":1,"size":40},"encoding":{"x":{"field":"r","type":"quantitative","scale":{"domain":[200,1400],"nice":false},"axis":null},"y":{"field":"t","type":"quantitative","scale":{"domain":[0,11],"nice":false},"axis":null}}},
{"transform":[{"filter":{"field":"o","valid":true}}],"mark":{"type":"point","shape":"circle","filled":false,"color":"#000","opacity":1,"size":60,"strokeWidth":0.9},"encoding":{"x":{"field":"r","type":"quantitative","scale":{"domain":[200,1400],"nice":false},"axis":null},"y":{"field":"o","type":"quantitative","scale":{"domain":[0,11],"nice":false},"axis":null}}},
{"transform":[{"filter":{"field":"c","valid":true}}],"mark":{"type":"point","shape":"M-1,-1L1,1M-1,1L1,-1","filled":false,"color":"#000","opacity":1,"size":40,"strokeWidth":1},"encoding":{"x":{"field":"r","type":"quantitative","scale":{"domain":[200,1400],"nice":false},"axis":null},"y":{"field":"c","type":"quantitative","scale":{"domain":[0,11],"nice":false},"axis":null}}},
{"data":{"values":[{}]},"mark":{"type":"text","text":"(16)","align":"right","baseline":"middle","font":"DejaVu Sans","fontSize":14,"color":"#404040"},"encoding":{"x":{"datum":1325,"type":"quantitative","scale":{"domain":[200,1400],"nice":false},"axis":null},"y":{"datum":10,"type":"quantitative","scale":{"domain":[0,11],"nice":false},"axis":null}}}]},
{"width":206,"height":164,"data":{"name":"p17"},"resolve":{"axis":{"x":"independent","y":"independent"}},"layer":[
{"transform":[{"filter":{"field":"d","valid":true}}],"mark":{"type":"line","color":"#000","strokeWidth":1.6,"strokeDash":[1,2.2]},"encoding":{"x":{"field":"r","type":"quantitative","scale":{"domain":[200,1400],"nice":false},"axis":{"orient":"bottom","values":[200,300,400,500,600,700,800,900,1000,1100,1200,1300,1400],"labels":true,"labelExpr":"datum.value%500?'':''+datum.value","title":"R","titleX":50,"titleY":35,"titleAlign":"center","titleBaseline":"middle","encode":{"ticks":{"update":{"y2":{"signal":"datum.value%500?-4.5:-9"}}}}}},"y":{"field":"d","type":"quantitative","scale":{"domain":[0,11],"nice":false},"axis":{"orient":"left","values":[0,0.5,1,1.5,2,2.5,3,3.5,4,4.5,5,5.5,6,6.5,7,7.5,8,8.5,9,9.5,10,10.5,11],"labels":true,"labelExpr":"datum.value%2?'':''+datum.value","title":"S","encode":{"ticks":{"update":{"x2":{"signal":"datum.value%2?4.5:9"}}}}}}}},
{"transform":[{"filter":{"field":"m","valid":true}}],"mark":{"type":"line","color":"#000","strokeWidth":0.8,"interpolate":"monotone"},"encoding":{"x":{"field":"r","type":"quantitative","scale":{"domain":[200,1400],"nice":false},"axis":{"orient":"top","values":[200,300,400,500,600,700,800,900,1000,1100,1200,1300,1400],"labels":false,"title":null,"encode":{"ticks":{"update":{"y2":{"signal":"datum.value%500?4.5:9"}}}}}},"y":{"field":"m","type":"quantitative","scale":{"domain":[0,11],"nice":false},"axis":{"orient":"right","values":[0,0.5,1,1.5,2,2.5,3,3.5,4,4.5,5,5.5,6,6.5,7,7.5,8,8.5,9,9.5,10,10.5,11],"labels":false,"title":null,"encode":{"ticks":{"update":{"x2":{"signal":"datum.value%2?-4.5:-9"}}}}}}}},
{"transform":[{"filter":{"field":"t","valid":true}}],"mark":{"type":"point","shape":"triangle-up","filled":true,"color":"#000","opacity":1,"size":40},"encoding":{"x":{"field":"r","type":"quantitative","scale":{"domain":[200,1400],"nice":false},"axis":null},"y":{"field":"t","type":"quantitative","scale":{"domain":[0,11],"nice":false},"axis":null}}},
{"transform":[{"filter":{"field":"o","valid":true}}],"mark":{"type":"point","shape":"circle","filled":false,"color":"#000","opacity":1,"size":60,"strokeWidth":0.9},"encoding":{"x":{"field":"r","type":"quantitative","scale":{"domain":[200,1400],"nice":false},"axis":null},"y":{"field":"o","type":"quantitative","scale":{"domain":[0,11],"nice":false},"axis":null}}},
{"transform":[{"filter":{"field":"c","valid":true}}],"mark":{"type":"point","shape":"M-1,-1L1,1M-1,1L1,-1","filled":false,"color":"#000","opacity":1,"size":40,"strokeWidth":1},"encoding":{"x":{"field":"r","type":"quantitative","scale":{"domain":[200,1400],"nice":false},"axis":null},"y":{"field":"c","type":"quantitative","scale":{"domain":[0,11],"nice":false},"axis":null}}},
{"data":{"values":[{}]},"mark":{"type":"text","text":"(17)","align":"right","baseline":"middle","font":"DejaVu Sans","fontSize":14,"color":"#404040"},"encoding":{"x":{"datum":1325,"type":"quantitative","scale":{"domain":[200,1400],"nice":false},"axis":null},"y":{"datum":10,"type":"quantitative","scale":{"domain":[0,11],"nice":false},"axis":null}}}]},
{"width":206,"height":164,"data":{"name":"p18"},"resolve":{"axis":{"x":"independent","y":"independent"}},"layer":[
{"transform":[{"filter":{"field":"d","valid":true}}],"mark":{"type":"line","color":"#000","strokeWidth":1.6,"strokeDash":[1,2.2]},"encoding":{"x":{"field":"r","type":"quantitative","scale":{"domain":[200,1400],"nice":false},"axis":{"orient":"bottom","values":[200,300,400,500,600,700,800,900,1000,1100,1200,1300,1400],"labels":true,"labelExpr":"datum.value%500?'':''+datum.value","title":"R","titleX":50,"titleY":35,"titleAlign":"center","titleBaseline":"middle","encode":{"ticks":{"update":{"y2":{"signal":"datum.value%500?-4.5:-9"}}}}}},"y":{"field":"d","type":"quantitative","scale":{"domain":[0,11],"nice":false},"axis":{"orient":"left","values":[0,0.5,1,1.5,2,2.5,3,3.5,4,4.5,5,5.5,6,6.5,7,7.5,8,8.5,9,9.5,10,10.5,11],"labels":false,"title":null,"encode":{"ticks":{"update":{"x2":{"signal":"datum.value%2?4.5:9"}}}}}}}},
{"transform":[{"filter":{"field":"m","valid":true}}],"mark":{"type":"line","color":"#000","strokeWidth":0.8,"interpolate":"monotone"},"encoding":{"x":{"field":"r","type":"quantitative","scale":{"domain":[200,1400],"nice":false},"axis":{"orient":"top","values":[200,300,400,500,600,700,800,900,1000,1100,1200,1300,1400],"labels":false,"title":null,"encode":{"ticks":{"update":{"y2":{"signal":"datum.value%500?4.5:9"}}}}}},"y":{"field":"m","type":"quantitative","scale":{"domain":[0,11],"nice":false},"axis":{"orient":"right","values":[0,0.5,1,1.5,2,2.5,3,3.5,4,4.5,5,5.5,6,6.5,7,7.5,8,8.5,9,9.5,10,10.5,11],"labels":false,"title":null,"encode":{"ticks":{"update":{"x2":{"signal":"datum.value%2?-4.5:-9"}}}}}}}},
{"transform":[{"filter":{"field":"t","valid":true}}],"mark":{"type":"point","shape":"triangle-up","filled":true,"color":"#000","opacity":1,"size":40},"encoding":{"x":{"field":"r","type":"quantitative","scale":{"domain":[200,1400],"nice":false},"axis":null},"y":{"field":"t","type":"quantitative","scale":{"domain":[0,11],"nice":false},"axis":null}}},
{"transform":[{"filter":{"field":"o","valid":true}}],"mark":{"type":"point","shape":"circle","filled":false,"color":"#000","opacity":1,"size":60,"strokeWidth":0.9},"encoding":{"x":{"field":"r","type":"quantitative","scale":{"domain":[200,1400],"nice":false},"axis":null},"y":{"field":"o","type":"quantitative","scale":{"domain":[0,11],"nice":false},"axis":null}}},
{"transform":[{"filter":{"field":"c","valid":true}}],"mark":{"type":"point","shape":"M-1,-1L1,1M-1,1L1,-1","filled":false,"color":"#000","opacity":1,"size":40,"strokeWidth":1},"encoding":{"x":{"field":"r","type":"quantitative","scale":{"domain":[200,1400],"nice":false},"axis":null},"y":{"field":"c","type":"quantitative","scale":{"domain":[0,11],"nice":false},"axis":null}}},
{"data":{"values":[{}]},"mark":{"type":"text","text":"(18)","align":"right","baseline":"middle","font":"DejaVu Sans","fontSize":14,"color":"#404040"},"encoding":{"x":{"datum":1325,"type":"quantitative","scale":{"domain":[200,1400],"nice":false},"axis":null},"y":{"datum":10,"type":"quantitative","scale":{"domain":[0,11],"nice":false},"axis":null}}}]},
{"width":206,"height":164,"data":{"name":"p19"},"resolve":{"axis":{"x":"independent","y":"independent"}},"layer":[
{"transform":[{"filter":{"field":"d","valid":true}}],"mark":{"type":"line","color":"#000","strokeWidth":1.6,"strokeDash":[1,2.2]},"encoding":{"x":{"field":"r","type":"quantitative","scale":{"domain":[200,1400],"nice":false},"axis":{"orient":"bottom","values":[200,300,400,500,600,700,800,900,1000,1100,1200,1300,1400],"labels":true,"labelExpr":"datum.value%500?'':''+datum.value","title":"R","titleX":50,"titleY":35,"titleAlign":"center","titleBaseline":"middle","encode":{"ticks":{"update":{"y2":{"signal":"datum.value%500?-4.5:-9"}}}}}},"y":{"field":"d","type":"quantitative","scale":{"domain":[0,11],"nice":false},"axis":{"orient":"left","values":[0,0.5,1,1.5,2,2.5,3,3.5,4,4.5,5,5.5,6,6.5,7,7.5,8,8.5,9,9.5,10,10.5,11],"labels":false,"title":null,"encode":{"ticks":{"update":{"x2":{"signal":"datum.value%2?4.5:9"}}}}}}}},
{"transform":[{"filter":{"field":"m","valid":true}}],"mark":{"type":"line","color":"#000","strokeWidth":0.8,"interpolate":"monotone"},"encoding":{"x":{"field":"r","type":"quantitative","scale":{"domain":[200,1400],"nice":false},"axis":{"orient":"top","values":[200,300,400,500,600,700,800,900,1000,1100,1200,1300,1400],"labels":false,"title":null,"encode":{"ticks":{"update":{"y2":{"signal":"datum.value%500?4.5:9"}}}}}},"y":{"field":"m","type":"quantitative","scale":{"domain":[0,11],"nice":false},"axis":{"orient":"right","values":[0,0.5,1,1.5,2,2.5,3,3.5,4,4.5,5,5.5,6,6.5,7,7.5,8,8.5,9,9.5,10,10.5,11],"labels":false,"title":null,"encode":{"ticks":{"update":{"x2":{"signal":"datum.value%2?-4.5:-9"}}}}}}}},
{"transform":[{"filter":{"field":"t","valid":true}}],"mark":{"type":"point","shape":"triangle-up","filled":true,"color":"#000","opacity":1,"size":40},"encoding":{"x":{"field":"r","type":"quantitative","scale":{"domain":[200,1400],"nice":false},"axis":null},"y":{"field":"t","type":"quantitative","scale":{"domain":[0,11],"nice":false},"axis":null}}},
{"transform":[{"filter":{"field":"o","valid":true}}],"mark":{"type":"point","shape":"circle","filled":false,"color":"#000","opacity":1,"size":60,"strokeWidth":0.9},"encoding":{"x":{"field":"r","type":"quantitative","scale":{"domain":[200,1400],"nice":false},"axis":null},"y":{"field":"o","type":"quantitative","scale":{"domain":[0,11],"nice":false},"axis":null}}},
{"transform":[{"filter":{"field":"c","valid":true}}],"mark":{"type":"point","shape":"M-1,-1L1,1M-1,1L1,-1","filled":false,"color":"#000","opacity":1,"size":40,"strokeWidth":1},"encoding":{"x":{"field":"r","type":"quantitative","scale":{"domain":[200,1400],"nice":false},"axis":null},"y":{"field":"c","type":"quantitative","scale":{"domain":[0,11],"nice":false},"axis":null}}},
{"data":{"values":[{}]},"mark":{"type":"text","text":"(19)","align":"right","baseline":"middle","font":"DejaVu Sans","fontSize":14,"color":"#404040"},"encoding":{"x":{"datum":1325,"type":"quantitative","scale":{"domain":[200,1400],"nice":false},"axis":null},"y":{"datum":10,"type":"quantitative","scale":{"domain":[0,11],"nice":false},"axis":null}}}]},
{"width":206,"height":164,"data":{"name":"p20"},"resolve":{"axis":{"x":"independent","y":"independent"}},"layer":[
{"transform":[{"filter":{"field":"d","valid":true}}],"mark":{"type":"line","color":"#000","strokeWidth":1.6,"strokeDash":[1,2.2]},"encoding":{"x":{"field":"r","type":"quantitative","scale":{"domain":[200,1400],"nice":false},"axis":{"orient":"bottom","values":[200,300,400,500,600,700,800,900,1000,1100,1200,1300,1400],"labels":true,"labelExpr":"datum.value%500?'':''+datum.value","title":"R","titleX":50,"titleY":35,"titleAlign":"center","titleBaseline":"middle","encode":{"ticks":{"update":{"y2":{"signal":"datum.value%500?-4.5:-9"}}}}}},"y":{"field":"d","type":"quantitative","scale":{"domain":[0,11],"nice":false},"axis":{"orient":"left","values":[0,0.5,1,1.5,2,2.5,3,3.5,4,4.5,5,5.5,6,6.5,7,7.5,8,8.5,9,9.5,10,10.5,11],"labels":false,"title":null,"encode":{"ticks":{"update":{"x2":{"signal":"datum.value%2?4.5:9"}}}}}}}},
{"transform":[{"filter":{"field":"m","valid":true}}],"mark":{"type":"line","color":"#000","strokeWidth":0.8,"interpolate":"monotone"},"encoding":{"x":{"field":"r","type":"quantitative","scale":{"domain":[200,1400],"nice":false},"axis":{"orient":"top","values":[200,300,400,500,600,700,800,900,1000,1100,1200,1300,1400],"labels":false,"title":null,"encode":{"ticks":{"update":{"y2":{"signal":"datum.value%500?4.5:9"}}}}}},"y":{"field":"m","type":"quantitative","scale":{"domain":[0,11],"nice":false},"axis":{"orient":"right","values":[0,0.5,1,1.5,2,2.5,3,3.5,4,4.5,5,5.5,6,6.5,7,7.5,8,8.5,9,9.5,10,10.5,11],"labels":false,"title":null,"encode":{"ticks":{"update":{"x2":{"signal":"datum.value%2?-4.5:-9"}}}}}}}},
{"transform":[{"filter":{"field":"t","valid":true}}],"mark":{"type":"point","shape":"triangle-up","filled":true,"color":"#000","opacity":1,"size":40},"encoding":{"x":{"field":"r","type":"quantitative","scale":{"domain":[200,1400],"nice":false},"axis":null},"y":{"field":"t","type":"quantitative","scale":{"domain":[0,11],"nice":false},"axis":null}}},
{"transform":[{"filter":{"field":"o","valid":true}}],"mark":{"type":"point","shape":"circle","filled":false,"color":"#000","opacity":1,"size":60,"strokeWidth":0.9},"encoding":{"x":{"field":"r","type":"quantitative","scale":{"domain":[200,1400],"nice":false},"axis":null},"y":{"field":"o","type":"quantitative","scale":{"domain":[0,11],"nice":false},"axis":null}}},
{"transform":[{"filter":{"field":"c","valid":true}}],"mark":{"type":"point","shape":"M-1,-1L1,1M-1,1L1,-1","filled":false,"color":"#000","opacity":1,"size":40,"strokeWidth":1},"encoding":{"x":{"field":"r","type":"quantitative","scale":{"domain":[200,1400],"nice":false},"axis":null},"y":{"field":"c","type":"quantitative","scale":{"domain":[0,11],"nice":false},"axis":null}}},
{"data":{"values":[{}]},"mark":{"type":"text","text":"(20)","align":"right","baseline":"middle","font":"DejaVu Sans","fontSize":14,"color":"#404040"},"encoding":{"x":{"datum":1325,"type":"quantitative","scale":{"domain":[200,1400],"nice":false},"axis":null},"y":{"datum":10,"type":"quantitative","scale":{"domain":[0,11],"nice":false},"axis":null}}}]}
]
}
